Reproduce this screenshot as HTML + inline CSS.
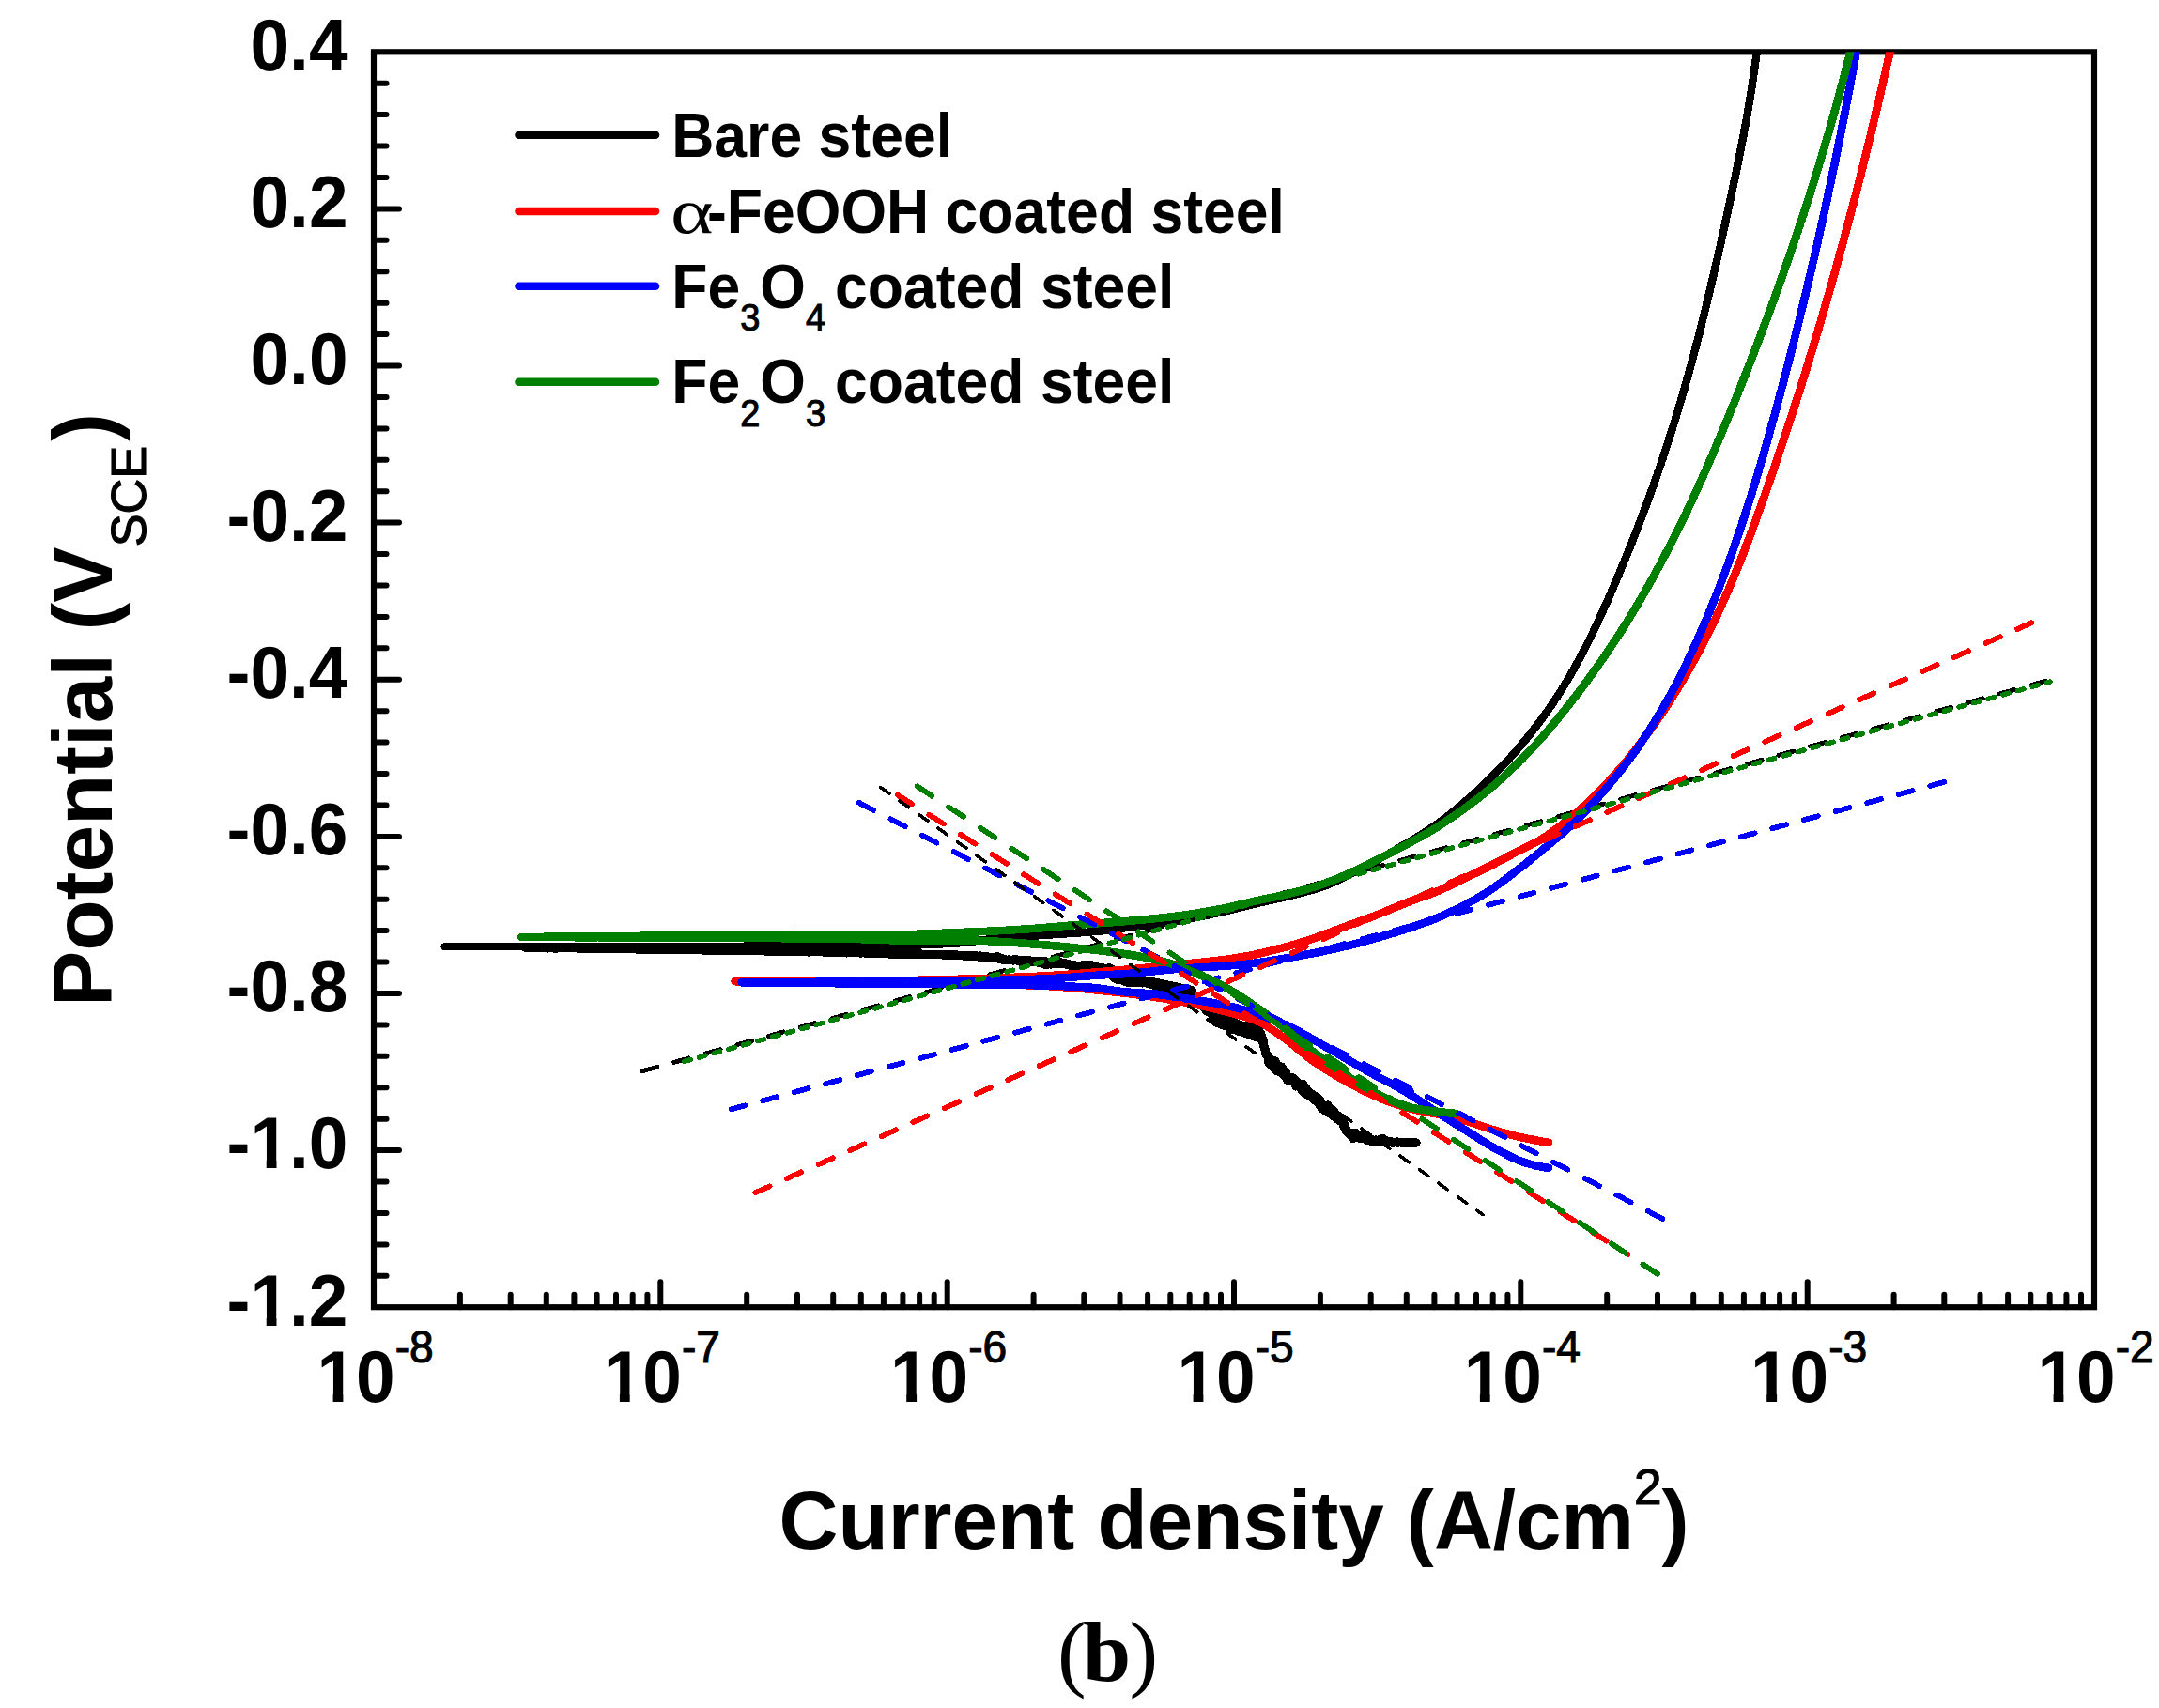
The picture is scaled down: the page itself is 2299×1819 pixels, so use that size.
<!DOCTYPE html>
<html lang="en"><head><meta charset="utf-8"><title>Polarization curves (b)</title>
<style>html,body{margin:0;padding:0;background:#fff}svg{display:block}text{font-family:'Liberation Sans', sans-serif;font-weight:bold;fill:#000}</style></head><body>
<svg width="2299" height="1819" viewBox="0 0 2299 1819" role="img" aria-label="Potentiodynamic polarization curves">
<rect width="2299" height="1819" fill="#fff"/>
<g stroke="#000" stroke-width="6.2" fill="none" stroke-linecap="butt">
<rect x="398.0" y="55.3" width="1832.0" height="1336.9"/>
</g>
<g stroke="#000" stroke-width="6" fill="none" stroke-linecap="round">
<line x1="398.0" y1="88.7" x2="411.5" y2="88.7"/>
<line x1="398.0" y1="122.1" x2="411.5" y2="122.1"/>
<line x1="398.0" y1="155.6" x2="411.5" y2="155.6"/>
<line x1="398.0" y1="189.0" x2="411.5" y2="189.0"/>
<line x1="398.0" y1="222.4" x2="425.0" y2="222.4"/>
<line x1="398.0" y1="255.8" x2="411.5" y2="255.8"/>
<line x1="398.0" y1="289.3" x2="411.5" y2="289.3"/>
<line x1="398.0" y1="322.7" x2="411.5" y2="322.7"/>
<line x1="398.0" y1="356.1" x2="411.5" y2="356.1"/>
<line x1="398.0" y1="389.5" x2="425.0" y2="389.5"/>
<line x1="398.0" y1="422.9" x2="411.5" y2="422.9"/>
<line x1="398.0" y1="456.4" x2="411.5" y2="456.4"/>
<line x1="398.0" y1="489.8" x2="411.5" y2="489.8"/>
<line x1="398.0" y1="523.2" x2="411.5" y2="523.2"/>
<line x1="398.0" y1="556.6" x2="425.0" y2="556.6"/>
<line x1="398.0" y1="590.1" x2="411.5" y2="590.1"/>
<line x1="398.0" y1="623.5" x2="411.5" y2="623.5"/>
<line x1="398.0" y1="656.9" x2="411.5" y2="656.9"/>
<line x1="398.0" y1="690.3" x2="411.5" y2="690.3"/>
<line x1="398.0" y1="723.8" x2="425.0" y2="723.8"/>
<line x1="398.0" y1="757.2" x2="411.5" y2="757.2"/>
<line x1="398.0" y1="790.6" x2="411.5" y2="790.6"/>
<line x1="398.0" y1="824.0" x2="411.5" y2="824.0"/>
<line x1="398.0" y1="857.4" x2="411.5" y2="857.4"/>
<line x1="398.0" y1="890.9" x2="425.0" y2="890.9"/>
<line x1="398.0" y1="924.3" x2="411.5" y2="924.3"/>
<line x1="398.0" y1="957.7" x2="411.5" y2="957.7"/>
<line x1="398.0" y1="991.1" x2="411.5" y2="991.1"/>
<line x1="398.0" y1="1024.6" x2="411.5" y2="1024.6"/>
<line x1="398.0" y1="1058.0" x2="425.0" y2="1058.0"/>
<line x1="398.0" y1="1091.4" x2="411.5" y2="1091.4"/>
<line x1="398.0" y1="1124.8" x2="411.5" y2="1124.8"/>
<line x1="398.0" y1="1158.2" x2="411.5" y2="1158.2"/>
<line x1="398.0" y1="1191.7" x2="411.5" y2="1191.7"/>
<line x1="398.0" y1="1225.1" x2="425.0" y2="1225.1"/>
<line x1="398.0" y1="1258.5" x2="411.5" y2="1258.5"/>
<line x1="398.0" y1="1291.9" x2="411.5" y2="1291.9"/>
<line x1="398.0" y1="1325.4" x2="411.5" y2="1325.4"/>
<line x1="398.0" y1="1358.8" x2="411.5" y2="1358.8"/>
<line x1="489.9" y1="1392.2" x2="489.9" y2="1378.7"/>
<line x1="543.7" y1="1392.2" x2="543.7" y2="1378.7"/>
<line x1="581.8" y1="1392.2" x2="581.8" y2="1378.7"/>
<line x1="611.4" y1="1392.2" x2="611.4" y2="1378.7"/>
<line x1="635.6" y1="1392.2" x2="635.6" y2="1378.7"/>
<line x1="656.0" y1="1392.2" x2="656.0" y2="1378.7"/>
<line x1="673.7" y1="1392.2" x2="673.7" y2="1378.7"/>
<line x1="689.4" y1="1392.2" x2="689.4" y2="1378.7"/>
<line x1="703.3" y1="1392.2" x2="703.3" y2="1365.2"/>
<line x1="795.2" y1="1392.2" x2="795.2" y2="1378.7"/>
<line x1="849.0" y1="1392.2" x2="849.0" y2="1378.7"/>
<line x1="887.2" y1="1392.2" x2="887.2" y2="1378.7"/>
<line x1="916.8" y1="1392.2" x2="916.8" y2="1378.7"/>
<line x1="940.9" y1="1392.2" x2="940.9" y2="1378.7"/>
<line x1="961.4" y1="1392.2" x2="961.4" y2="1378.7"/>
<line x1="979.1" y1="1392.2" x2="979.1" y2="1378.7"/>
<line x1="994.7" y1="1392.2" x2="994.7" y2="1378.7"/>
<line x1="1008.7" y1="1392.2" x2="1008.7" y2="1365.2"/>
<line x1="1100.6" y1="1392.2" x2="1100.6" y2="1378.7"/>
<line x1="1154.3" y1="1392.2" x2="1154.3" y2="1378.7"/>
<line x1="1192.5" y1="1392.2" x2="1192.5" y2="1378.7"/>
<line x1="1222.1" y1="1392.2" x2="1222.1" y2="1378.7"/>
<line x1="1246.3" y1="1392.2" x2="1246.3" y2="1378.7"/>
<line x1="1266.7" y1="1392.2" x2="1266.7" y2="1378.7"/>
<line x1="1284.4" y1="1392.2" x2="1284.4" y2="1378.7"/>
<line x1="1300.0" y1="1392.2" x2="1300.0" y2="1378.7"/>
<line x1="1314.0" y1="1392.2" x2="1314.0" y2="1365.2"/>
<line x1="1405.9" y1="1392.2" x2="1405.9" y2="1378.7"/>
<line x1="1459.7" y1="1392.2" x2="1459.7" y2="1378.7"/>
<line x1="1497.8" y1="1392.2" x2="1497.8" y2="1378.7"/>
<line x1="1527.4" y1="1392.2" x2="1527.4" y2="1378.7"/>
<line x1="1551.6" y1="1392.2" x2="1551.6" y2="1378.7"/>
<line x1="1572.0" y1="1392.2" x2="1572.0" y2="1378.7"/>
<line x1="1589.7" y1="1392.2" x2="1589.7" y2="1378.7"/>
<line x1="1605.4" y1="1392.2" x2="1605.4" y2="1378.7"/>
<line x1="1619.3" y1="1392.2" x2="1619.3" y2="1365.2"/>
<line x1="1711.2" y1="1392.2" x2="1711.2" y2="1378.7"/>
<line x1="1765.0" y1="1392.2" x2="1765.0" y2="1378.7"/>
<line x1="1803.2" y1="1392.2" x2="1803.2" y2="1378.7"/>
<line x1="1832.8" y1="1392.2" x2="1832.8" y2="1378.7"/>
<line x1="1856.9" y1="1392.2" x2="1856.9" y2="1378.7"/>
<line x1="1877.4" y1="1392.2" x2="1877.4" y2="1378.7"/>
<line x1="1895.1" y1="1392.2" x2="1895.1" y2="1378.7"/>
<line x1="1910.7" y1="1392.2" x2="1910.7" y2="1378.7"/>
<line x1="1924.7" y1="1392.2" x2="1924.7" y2="1365.2"/>
<line x1="2016.6" y1="1392.2" x2="2016.6" y2="1378.7"/>
<line x1="2070.3" y1="1392.2" x2="2070.3" y2="1378.7"/>
<line x1="2108.5" y1="1392.2" x2="2108.5" y2="1378.7"/>
<line x1="2138.1" y1="1392.2" x2="2138.1" y2="1378.7"/>
<line x1="2162.3" y1="1392.2" x2="2162.3" y2="1378.7"/>
<line x1="2182.7" y1="1392.2" x2="2182.7" y2="1378.7"/>
<line x1="2200.4" y1="1392.2" x2="2200.4" y2="1378.7"/>
<line x1="2216.0" y1="1392.2" x2="2216.0" y2="1378.7"/>
</g>
<clipPath id="pc"><rect x="398.0" y="55.3" width="1832.0" height="1336.9"/></clipPath>
<g clip-path="url(#pc)" shape-rendering="crispEdges">
<path d="M473.5,1008.2 L476.5,1008.2 L479.5,1008.2 L482.5,1008.2 L485.5,1008.2 L488.5,1008.2 L491.5,1008.2 L494.5,1008.2 L497.6,1008.2 L500.6,1008.2 L503.6,1008.2 L506.6,1008.2 L509.6,1008.1 L512.6,1008.1 L515.6,1008.1 L518.6,1008.1 L521.6,1008.1 L524.6,1008.1 L527.6,1008.1 L530.6,1008.1 L533.6,1008.1 L536.6,1008.1 L539.6,1008.1 L542.6,1008.1 L545.7,1008.1 L548.7,1008.1 L551.7,1008.1 L554.7,1008.1 L557.7,1008.1 L560.7,1008.1 L563.7,1008.1 L566.7,1008.1 L569.7,1008.1 L572.7,1008.0 L575.7,1008.0 L578.7,1008.0 L581.7,1008.0 L584.7,1008.0 L587.7,1008.0 L590.7,1008.0 L593.8,1008.0 L596.8,1008.0 L599.8,1008.0 L602.8,1008.0 L605.8,1008.0 L608.8,1008.0 L611.8,1008.0 L614.8,1008.0 L617.8,1008.0 L620.8,1008.0 L623.8,1008.0 L626.8,1008.0 L629.8,1007.9 L632.8,1007.9 L635.8,1007.9 L638.8,1007.9 L641.9,1007.9 L644.9,1007.9 L647.9,1007.9 L650.9,1007.9 L653.9,1007.9 L656.9,1007.9 L659.9,1007.9 L662.9,1007.9 L665.9,1007.9 L668.9,1007.9 L671.9,1007.9 L674.9,1007.9 L677.9,1007.9 L680.9,1007.9 L683.9,1007.9 L686.9,1007.9 L690.0,1007.9 L693.0,1007.8 L696.0,1007.8 L699.0,1007.8 L702.0,1007.8 L705.0,1007.8 L708.0,1007.8 L711.0,1007.8 L714.0,1007.8 L717.0,1007.8 L720.0,1007.8 L723.0,1007.8 L726.0,1007.8 L729.0,1007.8 L732.0,1007.8 L735.0,1007.8 L738.1,1007.8 L741.1,1007.8 L744.1,1007.8 L747.1,1007.7 L750.1,1007.7 L753.1,1007.7 L756.1,1007.7 L759.1,1007.7 L762.1,1007.7 L765.1,1007.7 L768.1,1007.7 L771.1,1007.7 L774.1,1007.7 L777.1,1007.7 L780.1,1007.7 L783.1,1007.7 L786.2,1007.7 L789.2,1007.7 L792.2,1007.7 L795.2,1007.6 L798.2,1007.6 L801.2,1007.6 L804.2,1007.6 L807.2,1007.6 L810.2,1007.6 L813.2,1007.6 L816.2,1007.6 L819.2,1007.6 L822.2,1007.6 L825.2,1007.6 L828.2,1007.6 L831.2,1007.6 L834.3,1007.5 L837.3,1007.5 L840.3,1007.5 L843.3,1007.5 L846.3,1007.5 L849.3,1007.5 L852.3,1007.5 L855.3,1007.5 L858.3,1007.5 L861.3,1007.5 L864.3,1007.5 L867.3,1007.4 L870.3,1007.4 L873.3,1007.4 L876.3,1007.4 L879.3,1007.4 L882.4,1007.4 L885.4,1007.4 L888.4,1007.4 L891.4,1007.4 L894.4,1007.4 L897.4,1007.3 L900.4,1007.3 L903.4,1007.3 L906.4,1007.3 L909.4,1007.3 L912.4,1007.3 L915.4,1007.3 L918.4,1007.2 L921.4,1007.2 L924.4,1007.2 L927.5,1007.2 L930.5,1007.2 L933.5,1007.1 L936.5,1007.1 L939.5,1007.1 L942.5,1007.1 L945.5,1007.0 L948.5,1007.0 L951.5,1007.0 L954.5,1006.9 L957.5,1006.9 L960.5,1006.9 L963.5,1006.8 L966.5,1006.7 L969.5,1006.6 L972.5,1006.6 L975.6,1006.5 L978.6,1006.4 L981.6,1006.3 L984.6,1006.2 L987.6,1006.0 L990.6,1005.9 L993.6,1005.8 L996.6,1005.7 L999.6,1005.5 L1002.6,1005.4 L1005.6,1005.2 L1008.6,1005.1 L1011.6,1004.9 L1014.6,1004.7 L1017.6,1004.6 L1020.6,1004.4 L1023.6,1004.1 L1026.6,1003.8 L1029.5,1003.5 L1032.5,1003.1 L1035.5,1002.7 L1038.5,1002.3 L1041.5,1001.9 L1044.5,1001.5 L1047.4,1001.1 L1050.4,1000.7 L1053.4,1000.3 L1056.4,1000.0 L1059.4,999.6 L1062.4,999.4 L1065.4,999.1 L1068.4,998.9 L1071.4,998.7 L1074.4,998.4 L1077.4,998.2 L1080.4,998.0 L1083.4,997.8 L1086.4,997.6 L1089.4,997.4 L1092.4,997.2 L1095.4,997.0 L1098.4,996.8 L1101.4,996.6 L1104.4,996.4 L1107.4,996.2 L1110.4,996.0 L1113.4,995.8 L1116.4,995.6 L1119.4,995.4 L1122.4,995.2 L1125.4,995.0 L1128.4,994.8 L1131.4,994.6 L1134.4,994.4 L1137.4,994.2 L1140.4,994.0 L1143.4,993.8 L1146.4,993.6 L1149.4,993.4 L1152.4,993.1 L1155.4,992.9 L1158.4,992.7 L1161.4,992.4 L1164.4,992.2 L1167.3,991.9 L1170.3,991.7 L1173.3,991.4 L1176.3,991.1 L1179.3,990.7 L1182.3,990.3 L1185.3,990.0 L1188.2,989.6 L1191.2,989.2 L1194.2,988.8 L1197.2,988.4 L1200.2,988.0 L1203.2,987.6 L1206.1,987.2 L1209.1,986.9 L1212.1,986.5 L1215.1,986.1 L1218.1,985.8 L1221.1,985.4 L1224.1,985.1 L1227.0,984.7 L1230.0,984.3 L1233.0,983.9 L1236.0,983.5 L1239.0,983.1 L1241.9,982.7 L1244.9,982.3 L1247.9,981.8 L1250.8,981.4 L1253.8,980.9 L1256.8,980.4 L1259.7,979.9 L1262.7,979.3 L1265.6,978.8 L1268.6,978.2 L1271.5,977.6 L1274.5,977.0 L1277.4,976.4 L1280.4,975.8 L1283.3,975.1 L1286.3,974.5 L1289.2,973.9 L1292.1,973.2 L1295.1,972.6 L1298.0,971.9 L1301.0,971.3 L1303.9,970.6 L1306.8,969.9 L1309.7,969.2 L1312.7,968.5 L1315.6,967.8 L1318.5,967.1 L1321.4,966.3 L1324.3,965.6 L1327.2,964.9 L1330.2,964.1 L1333.1,963.4 L1336.0,962.7 L1338.9,962.0 L1341.8,961.3 L1344.8,960.7 L1347.7,960.0 L1350.6,959.3 L1353.6,958.7 L1356.5,958.0 L1359.5,957.4 L1362.4,956.7 L1365.3,956.0 L1368.2,955.3 L1371.1,954.6 L1374.1,953.9 L1377.0,953.2 L1379.9,952.4 L1382.9,951.7 L1385.8,951.0 L1388.7,950.2 L1391.6,949.4 L1394.5,948.6 L1397.4,947.8 L1400.3,947.0 L1403.2,946.1 L1406.0,945.2 L1408.8,944.2 L1411.6,943.2 L1414.4,942.1 L1417.2,940.9 L1419.9,939.7 L1422.7,938.5 L1425.4,937.2 L1428.1,935.9 L1430.8,934.5 L1433.5,933.2 L1436.2,931.9 L1438.9,930.5 L1441.6,929.2 L1444.3,927.9 L1447.0,926.5 L1449.7,925.1 L1452.3,923.7 L1455.0,922.3 L1457.6,920.9 L1460.3,919.5 L1462.9,918.0 L1465.6,916.6 L1468.2,915.1 L1470.8,913.6 L1473.4,912.1 L1476.0,910.7 L1478.7,909.2 L1481.3,907.7 L1483.9,906.2 L1486.5,904.7 L1489.1,903.1 L1491.7,901.6 L1494.3,900.1 L1496.9,898.6 L1499.5,897.1 L1502.1,895.5 L1504.7,894.0 L1507.2,892.4 L1509.8,890.9 L1512.4,889.3 L1514.9,887.7 L1517.5,886.1 L1520.0,884.4 L1522.5,882.8 L1525.0,881.1 L1527.5,879.4 L1529.9,877.7 L1532.3,876.0 L1534.8,874.2 L1537.1,872.4 L1539.5,870.6 L1541.9,868.8 L1544.3,866.9 L1546.6,865.0 L1548.9,863.1 L1551.3,861.2 L1553.6,859.3 L1555.9,857.3 L1558.2,855.3 L1560.4,853.3 L1562.7,851.3 L1564.9,849.3 L1567.2,847.3 L1569.4,845.3 L1571.6,843.3 L1573.9,841.2 L1576.1,839.2 L1578.3,837.1 L1580.4,835.1 L1582.6,833.0 L1584.8,830.9 L1586.9,828.9 L1589.1,826.7 L1591.2,824.6 L1593.4,822.5 L1595.5,820.4 L1597.6,818.2 L1599.7,816.0 L1601.8,813.8 L1603.8,811.6 L1605.9,809.4 L1607.9,807.2 L1609.9,805.0 L1611.9,802.7 L1613.9,800.5 L1615.8,798.2 L1617.8,795.9 L1619.7,793.6 L1621.6,791.3 L1623.5,789.0 L1625.4,786.7 L1627.3,784.3 L1629.2,782.0 L1631.1,779.6 L1632.9,777.2 L1634.8,774.9 L1636.6,772.5 L1638.4,770.1 L1640.2,767.6 L1642.0,765.2 L1643.8,762.8 L1645.6,760.3 L1647.3,757.9 L1649.1,755.4 L1650.8,753.0 L1652.5,750.5 L1654.2,748.0 L1655.8,745.5 L1657.5,743.0 L1659.1,740.5 L1660.7,738.0 L1662.3,735.4 L1663.9,732.9 L1665.5,730.3 L1667.0,727.8 L1668.6,725.2 L1670.1,722.6 L1671.6,720.0 L1673.1,717.4 L1674.6,714.7 L1676.1,712.1 L1677.5,709.5 L1679.0,706.8 L1680.4,704.2 L1681.9,701.5 L1683.3,698.9 L1684.7,696.2 L1686.1,693.6 L1687.5,690.9 L1688.9,688.2 L1690.2,685.6 L1691.6,682.9 L1692.9,680.2 L1694.3,677.5 L1695.6,674.8 L1696.9,672.1 L1698.2,669.4 L1699.5,666.7 L1700.7,663.9 L1702.0,661.2 L1703.2,658.5 L1704.5,655.7 L1705.7,653.0 L1707.0,650.2 L1708.2,647.5 L1709.4,644.8 L1710.7,642.0 L1711.9,639.3 L1713.1,636.5 L1714.3,633.8 L1715.5,631.0 L1716.7,628.3 L1717.9,625.5 L1719.1,622.7 L1720.3,620.0 L1721.5,617.2 L1722.7,614.4 L1723.8,611.7 L1725.0,608.9 L1726.1,606.1 L1727.3,603.3 L1728.4,600.6 L1729.6,597.8 L1730.7,595.0 L1731.9,592.2 L1733.0,589.4 L1734.1,586.6 L1735.3,583.9 L1736.4,581.1 L1737.5,578.3 L1738.6,575.5 L1739.7,572.7 L1740.8,569.9 L1741.9,567.1 L1743.0,564.3 L1744.1,561.5 L1745.1,558.7 L1746.2,555.9 L1747.3,553.1 L1748.4,550.2 L1749.4,547.4 L1750.5,544.6 L1751.5,541.8 L1752.6,539.0 L1753.6,536.2 L1754.7,533.3 L1755.7,530.5 L1756.7,527.7 L1757.7,524.9 L1758.8,522.0 L1759.8,519.2 L1760.8,516.4 L1761.8,513.5 L1762.8,510.7 L1763.8,507.9 L1764.8,505.0 L1765.7,502.2 L1766.7,499.3 L1767.7,496.5 L1768.7,493.7 L1769.6,490.8 L1770.6,488.0 L1771.5,485.1 L1772.5,482.3 L1773.4,479.4 L1774.4,476.5 L1775.3,473.7 L1776.2,470.8 L1777.1,468.0 L1778.1,465.1 L1779.0,462.2 L1779.9,459.4 L1780.8,456.5 L1781.7,453.6 L1782.6,450.8 L1783.5,447.9 L1784.4,445.0 L1785.2,442.1 L1786.1,439.3 L1787.0,436.4 L1787.8,433.5 L1788.7,430.6 L1789.6,427.8 L1790.4,424.9 L1791.3,422.0 L1792.1,419.1 L1792.9,416.2 L1793.8,413.3 L1794.6,410.4 L1795.4,407.5 L1796.2,404.6 L1797.0,401.7 L1797.8,398.9 L1798.6,396.0 L1799.4,393.1 L1800.2,390.2 L1801.0,387.3 L1801.8,384.4 L1802.6,381.5 L1803.4,378.5 L1804.1,375.6 L1804.9,372.7 L1805.7,369.8 L1806.4,366.9 L1807.2,364.0 L1808.0,361.1 L1808.7,358.2 L1809.5,355.3 L1810.2,352.4 L1810.9,349.5 L1811.7,346.5 L1812.4,343.6 L1813.1,340.7 L1813.9,337.8 L1814.6,334.9 L1815.3,332.0 L1816.0,329.0 L1816.7,326.1 L1817.4,323.2 L1818.2,320.3 L1818.9,317.3 L1819.6,314.4 L1820.3,311.5 L1820.9,308.6 L1821.6,305.6 L1822.3,302.7 L1823.0,299.8 L1823.7,296.9 L1824.4,293.9 L1825.1,291.0 L1825.7,288.1 L1826.4,285.1 L1827.1,282.2 L1827.8,279.3 L1828.4,276.4 L1829.1,273.4 L1829.8,270.5 L1830.4,267.6 L1831.1,264.6 L1831.8,261.7 L1832.4,258.8 L1833.1,255.8 L1833.7,252.9 L1834.4,250.0 L1835.0,247.0 L1835.7,244.1 L1836.3,241.2 L1836.9,238.2 L1837.6,235.3 L1838.2,232.3 L1838.9,229.4 L1839.5,226.5 L1840.1,223.5 L1840.8,220.6 L1841.4,217.7 L1842.1,214.7 L1842.7,211.8 L1843.3,208.8 L1844.0,205.9 L1844.6,203.0 L1845.2,200.0 L1845.8,197.1 L1846.4,194.1 L1847.1,191.2 L1847.7,188.2 L1848.3,185.3 L1848.9,182.4 L1849.5,179.4 L1850.1,176.5 L1850.7,173.5 L1851.3,170.6 L1851.9,167.6 L1852.5,164.7 L1853.1,161.7 L1853.7,158.8 L1854.2,155.8 L1854.8,152.9 L1855.4,149.9 L1856.0,147.0 L1856.5,144.0 L1857.1,141.1 L1857.6,138.1 L1858.2,135.2 L1858.7,132.2 L1859.3,129.3 L1859.8,126.3 L1860.3,123.3 L1860.9,120.4 L1861.4,117.4 L1861.9,114.4 L1862.4,111.5 L1862.9,108.5 L1863.4,105.6 L1863.9,102.6 L1864.4,99.6 L1864.8,96.7 L1865.3,93.7 L1865.8,90.7 L1866.2,87.7 L1866.7,84.8 L1867.1,81.8 L1867.5,78.8 L1868.0,75.8 L1868.4,72.9 L1868.8,69.9 L1869.2,66.9 L1869.6,63.9 L1870.0,60.9 L1870.4,58.0 L1870.7,55.0 L1871.1,52.0" fill="none" stroke="#000000" stroke-width="8.4" stroke-linecap="round" stroke-linejoin="round"/>
<path d="M560.0,1009.5 L562.5,1009.5 L565.0,1009.5 L567.5,1009.4 L570.0,1009.4 L572.6,1009.6 L575.1,1009.6 L577.6,1009.6 L580.1,1009.7 L582.6,1009.8 L585.1,1009.7 L587.6,1009.7 L590.1,1009.8 L592.6,1009.8 L595.1,1009.7 L597.7,1009.7 L600.2,1009.7 L602.7,1009.6 L605.2,1009.5 L607.7,1009.6 L610.2,1009.6 L612.7,1009.7 L615.2,1009.8 L617.7,1010.0 L620.3,1009.8 L622.8,1009.9 L625.3,1009.9 L627.8,1009.9 L630.3,1009.9 L632.8,1010.0 L635.3,1010.0 L637.8,1010.0 L640.3,1010.1 L642.8,1010.2 L645.4,1010.2 L647.9,1010.4 L650.4,1010.4 L652.9,1010.4 L655.4,1010.5 L657.9,1010.5 L660.4,1010.4 L662.9,1010.5 L665.4,1010.6 L668.0,1010.5 L670.5,1010.6 L673.0,1010.7 L675.5,1010.7 L678.0,1010.8 L680.5,1011.0 L683.0,1010.9 L685.5,1010.9 L688.0,1011.0 L690.5,1010.9 L693.1,1010.9 L695.6,1011.0 L698.1,1011.1 L700.6,1011.2 L703.1,1011.2 L705.6,1011.2 L708.1,1011.2 L710.6,1011.2 L713.1,1011.0 L715.7,1011.1 L718.2,1011.1 L720.7,1011.2 L723.2,1011.3 L725.7,1011.4 L728.2,1011.4 L730.7,1011.5 L733.2,1011.3 L735.7,1011.2 L738.2,1011.3 L740.8,1011.5 L743.3,1011.6 L745.8,1011.7 L748.3,1011.8 L750.8,1011.8 L753.3,1011.9 L755.8,1011.8 L758.3,1011.9 L760.8,1012.0 L763.3,1012.0 L765.9,1011.9 L768.4,1011.9 L770.9,1012.0 L773.4,1012.0 L775.9,1012.1 L778.4,1012.2 L780.9,1012.3 L783.4,1012.4 L785.9,1012.5 L788.5,1012.5 L791.0,1012.5 L793.5,1012.6 L796.0,1012.5 L798.5,1012.6 L801.0,1012.4 L803.5,1012.3 L806.0,1012.3 L808.5,1012.3 L811.0,1012.4 L813.6,1012.7 L816.1,1012.9 L818.6,1012.9 L821.1,1013.1 L823.6,1013.1 L826.1,1013.0 L828.6,1013.1 L831.1,1013.2 L833.6,1013.3 L836.1,1013.2 L838.7,1013.3 L841.2,1013.3 L843.7,1013.2 L846.2,1013.3 L848.7,1013.3 L851.2,1013.5 L853.7,1013.5 L856.2,1013.7 L858.7,1013.7 L861.2,1013.8 L863.8,1013.6 L866.3,1013.5 L868.8,1013.6 L871.3,1013.5 L873.8,1013.6 L876.3,1013.7 L878.8,1013.9 L881.3,1013.8 L883.8,1014.2 L886.3,1014.2 L888.9,1014.2 L891.4,1014.3 L893.9,1014.6 L896.4,1014.6 L898.9,1014.6 L901.4,1014.8 L903.9,1014.6 L906.4,1014.7 L908.9,1014.7 L911.4,1014.7 L914.0,1014.7 L916.5,1014.8 L919.0,1014.7 L921.5,1014.9 L924.0,1014.9 L926.5,1015.2 L929.0,1015.3 L931.5,1015.4 L934.0,1015.3 L936.5,1015.3 L939.1,1015.3 L941.6,1015.3 L944.1,1015.4 L946.6,1015.4 L949.1,1015.4 L951.6,1015.6 L954.1,1015.6 L956.6,1015.6 L959.1,1015.8 L961.7,1016.1 L964.2,1015.9 L966.7,1016.0 L969.2,1016.1 L971.7,1015.9 L974.2,1015.9 L976.7,1016.1 L979.2,1016.1 L981.7,1016.2 L984.3,1016.5 L986.8,1016.4 L989.3,1016.4 L991.8,1016.3 L994.3,1016.3 L996.8,1016.5 L999.3,1016.6 L1001.8,1016.7 L1004.3,1016.8 L1006.9,1017.0 L1009.4,1016.8 L1011.9,1017.1 L1014.4,1017.0 L1016.9,1017.1 L1019.4,1017.2 L1021.9,1017.6 L1024.4,1017.7 L1026.9,1017.9 L1029.4,1017.9 L1031.9,1017.8 L1034.4,1017.9 L1036.9,1018.1 L1039.4,1018.1 L1041.9,1018.5 L1044.4,1019.1 L1046.9,1019.3 L1049.4,1019.6 L1051.9,1019.8 L1054.4,1020.3 L1056.9,1020.1 L1059.4,1020.4 L1061.9,1020.6 L1064.4,1021.2 L1066.9,1021.6 L1069.4,1022.6 L1071.9,1022.4 L1074.4,1022.2 L1076.9,1022.5 L1079.4,1022.0 L1081.9,1021.9 L1084.4,1022.7 L1086.9,1022.9 L1089.4,1022.4 L1091.9,1022.9 L1094.4,1023.1 L1096.9,1023.0 L1099.4,1023.7 L1101.9,1024.3 L1104.4,1023.9 L1106.9,1024.0 L1109.4,1024.0 L1111.9,1023.7 L1114.4,1024.3 L1116.9,1024.9 L1119.4,1025.3 L1121.9,1025.5 L1124.4,1026.0 L1126.9,1025.7 L1129.4,1025.6 L1131.9,1025.8 L1134.4,1026.0 L1137.0,1026.6 L1139.5,1027.3 L1142.0,1028.5 L1144.6,1028.1 L1147.1,1029.0 L1149.6,1029.0 L1152.1,1029.1 L1154.7,1028.0 L1157.2,1028.6 L1159.7,1028.8 L1162.2,1029.1 L1164.6,1029.4 L1167.1,1030.2 L1169.5,1031.2 L1171.9,1031.3 L1174.3,1031.0 L1176.6,1031.4 L1178.9,1031.7 L1181.2,1030.8 L1183.4,1031.8 L1185.7,1034.6 L1187.9,1036.2 L1190.2,1037.8 L1192.4,1040.0 L1194.7,1041.8 L1197.0,1042.3 L1199.4,1043.0 L1201.8,1044.1 L1204.2,1045.0 L1206.6,1045.3 L1209.1,1045.9 L1211.6,1046.3 L1214.1,1046.2 L1216.6,1046.8 L1219.1,1046.4 L1221.6,1047.0 L1224.1,1046.6 L1226.6,1047.4 L1229.1,1047.5 L1231.6,1047.6 L1234.1,1048.3 L1236.6,1050.1 L1239.0,1050.5 L1241.5,1051.4 L1244.1,1052.7 L1246.6,1051.2 L1249.1,1051.2 L1251.5,1052.0 L1254.0,1052.3 L1256.3,1052.3 L1258.7,1054.2 L1260.9,1054.8 L1263.1,1056.4 L1265.3,1057.6 L1267.4,1059.5 L1269.4,1061.9 L1271.4,1063.3 L1273.4,1064.0 L1275.3,1064.4 L1277.3,1067.1 L1279.2,1068.5 L1281.1,1071.2 L1283.0,1073.5 L1284.9,1076.6 L1286.7,1077.5 L1288.5,1078.5 L1290.3,1079.5 L1292.1,1080.8 L1294.0,1083.3 L1296.1,1084.9 L1298.2,1086.3 L1300.4,1087.1 L1302.7,1087.6 L1305.0,1088.6 L1307.3,1089.5 L1309.7,1090.5 L1312.1,1091.6 L1314.5,1092.1 L1316.9,1091.7 L1319.3,1092.9 L1321.7,1093.4 L1324.2,1094.4 L1326.9,1095.9 L1329.7,1096.8 L1332.5,1095.6 L1335.1,1096.5 L1337.6,1096.8 L1339.8,1098.7 L1341.6,1099.0 L1342.9,1102.0 L1343.8,1105.0 L1344.4,1107.6 L1345.0,1108.9 L1345.4,1112.4 L1345.9,1114.7 L1346.5,1115.4 L1347.2,1118.5 L1348.2,1122.8 L1349.5,1124.5 L1351.1,1126.4 L1352.8,1128.3 L1354.6,1130.1 L1356.2,1129.3 L1357.9,1130.4 L1359.7,1133.5 L1361.5,1135.3 L1363.3,1137.7 L1365.1,1141.7 L1366.9,1144.6 L1368.7,1145.8 L1370.5,1149.9 L1372.3,1150.6 L1374.1,1150.6 L1375.9,1151.0 L1377.7,1152.3 L1379.6,1153.5 L1381.6,1156.0 L1383.6,1157.2 L1385.7,1159.1 L1387.8,1160.0 L1389.9,1160.5 L1391.9,1160.9 L1394.0,1163.4 L1396.0,1165.8 L1397.9,1167.6 L1399.8,1169.0 L1401.6,1171.1 L1403.3,1172.6 L1405.0,1174.7 L1406.8,1178.3 L1408.5,1180.7 L1410.3,1182.3 L1412.2,1182.6 L1414.2,1184.0 L1416.3,1182.2 L1418.5,1181.9 L1420.7,1183.9 L1422.9,1187.3 L1424.9,1188.3 L1426.8,1190.1 L1428.4,1192.7 L1429.7,1193.5 L1430.9,1195.8 L1432.1,1200.3 L1433.3,1204.2 L1434.8,1205.6 L1436.5,1206.6 L1438.5,1207.2 L1440.7,1206.3 L1443.1,1206.4 L1445.6,1208.2 L1448.1,1209.2 L1450.6,1210.8 L1453.1,1212.3 L1455.5,1214.2 L1457.9,1214.3 L1460.4,1215.6 L1462.8,1215.3 L1465.3,1215.0 L1467.8,1214.8 L1470.4,1214.8 L1472.9,1214.5 L1475.4,1215.0 L1477.9,1215.3 L1480.4,1215.6 L1482.9,1216.4 L1485.4,1216.4 L1487.9,1216.2 L1490.4,1216.4 L1492.9,1216.5 L1495.4,1216.4 L1497.9,1216.9 L1500.4,1217.1 L1503.0,1217.0 L1505.5,1217.0 L1508.0,1217.0" fill="none" stroke="#000000" stroke-width="9.5" stroke-linecap="round" stroke-linejoin="round"/>
<path d="M560.0,1009.7 L562.5,1009.7 L565.0,1009.6 L567.5,1009.7 L570.0,1009.7 L572.6,1009.7 L575.1,1009.5 L577.6,1009.7 L580.1,1009.7 L582.6,1009.8 L585.1,1009.8 L587.6,1009.8 L590.1,1009.8 L592.6,1010.0 L595.1,1009.9 L597.7,1009.9 L600.2,1009.9 L602.7,1009.9 L605.2,1009.8 L607.7,1009.9 L610.2,1009.8 L612.7,1009.6 L615.2,1009.6 L617.7,1009.5 L620.3,1009.5 L622.8,1009.6 L625.3,1009.6 L627.8,1009.7 L630.3,1009.9 L632.8,1009.9 L635.3,1010.0 L637.8,1010.2 L640.3,1010.3 L642.8,1010.4 L645.4,1010.5 L647.9,1010.5 L650.4,1010.5 L652.9,1010.5 L655.4,1010.5 L657.9,1010.7 L660.4,1010.5 L662.9,1010.4 L665.4,1010.4 L668.0,1010.3 L670.5,1010.3 L673.0,1010.4 L675.5,1010.3 L678.0,1010.5 L680.5,1010.7 L683.0,1010.9 L685.5,1011.1 L688.0,1011.2 L690.5,1011.1 L693.1,1011.2 L695.6,1011.2 L698.1,1011.0 L700.6,1011.0 L703.1,1011.0 L705.6,1011.0 L708.1,1011.1 L710.6,1011.1 L713.1,1011.1 L715.7,1011.2 L718.2,1011.3 L720.7,1011.3 L723.2,1011.3 L725.7,1011.3 L728.2,1011.5 L730.7,1011.6 L733.2,1011.7 L735.7,1011.7 L738.2,1011.9 L740.8,1012.1 L743.3,1012.0 L745.8,1012.0 L748.3,1012.0 L750.8,1012.1 L753.3,1012.0 L755.8,1012.0 L758.3,1011.7 L760.8,1012.0 L763.3,1012.1 L765.9,1011.9 L768.4,1011.9 L770.9,1011.9 L773.4,1011.8 L775.9,1012.2 L778.4,1012.4 L780.9,1012.1 L783.4,1012.3 L785.9,1012.4 L788.5,1012.8 L791.0,1012.8 L793.5,1012.6 L796.0,1012.5 L798.5,1012.7 L801.0,1012.8 L803.5,1012.7 L806.0,1012.6 L808.5,1012.6 L811.0,1012.8 L813.6,1012.7 L816.1,1012.6 L818.6,1012.7 L821.1,1012.9 L823.6,1012.9 L826.1,1012.8 L828.6,1013.0 L831.1,1013.1 L833.6,1013.6 L836.1,1013.7 L838.7,1013.5 L841.2,1013.4 L843.7,1013.8 L846.2,1014.0 L848.7,1013.9 L851.2,1013.6 L853.7,1013.7 L856.2,1013.7 L858.7,1013.9 L861.2,1013.8 L863.8,1013.5 L866.3,1013.8 L868.8,1013.9 L871.3,1014.0 L873.8,1014.1 L876.3,1014.3 L878.8,1014.1 L881.3,1013.9 L883.8,1013.9 L886.3,1013.9 L888.9,1013.9 L891.4,1014.1 L893.9,1014.3 L896.4,1014.7 L898.9,1015.1 L901.4,1015.0 L903.9,1015.1 L906.4,1015.0 L908.9,1014.9 L911.4,1014.6 L914.0,1014.5 L916.5,1014.4 L919.0,1014.5 L921.5,1014.6 L924.0,1014.5 L926.5,1014.6 L929.0,1014.9 L931.5,1015.1 L934.0,1015.3 L936.5,1015.2 L939.1,1015.2 L941.6,1015.8 L944.1,1016.0 L946.6,1016.3 L949.1,1016.5 L951.6,1016.4 L954.1,1016.6 L956.6,1016.8 L959.1,1016.6 L961.7,1016.7 L964.2,1016.5 L966.7,1016.3 L969.2,1016.2 L971.7,1016.2 L974.2,1016.1 L976.7,1016.1 L979.2,1016.0 L981.7,1016.1 L984.3,1016.2 L986.8,1016.5 L989.3,1016.7 L991.8,1016.8 L994.3,1016.8 L996.8,1016.9 L999.3,1016.8 L1001.8,1016.8 L1004.3,1016.8 L1006.9,1016.9 L1009.4,1016.7 L1011.9,1017.0 L1014.4,1017.0 L1016.9,1017.0 L1019.4,1017.0 L1021.9,1017.0 L1024.4,1017.0 L1026.9,1017.2 L1029.4,1016.9 L1031.9,1016.9 L1034.4,1017.5 L1036.9,1017.7 L1039.4,1017.7 L1041.9,1017.8 L1044.4,1017.7 L1046.9,1018.7 L1049.4,1018.7 L1051.9,1018.7 L1054.4,1019.1 L1056.9,1019.3 L1059.4,1019.7 L1061.9,1020.7 L1064.4,1020.6 L1066.9,1021.5 L1069.4,1021.9 L1071.9,1022.1 L1074.4,1023.0 L1076.9,1023.2 L1079.4,1023.3 L1081.9,1023.1 L1084.4,1023.6 L1086.9,1023.3 L1089.4,1023.1 L1091.9,1023.3 L1094.4,1024.2 L1096.9,1024.6 L1099.4,1024.9 L1101.9,1025.1 L1104.4,1025.3 L1106.9,1025.9 L1109.4,1026.0 L1111.9,1024.6 L1114.4,1024.4 L1116.9,1024.4 L1119.4,1023.9 L1121.9,1023.7 L1124.4,1023.2 L1126.9,1022.9 L1129.4,1024.5 L1131.9,1025.4 L1134.4,1026.1 L1137.0,1027.2 L1139.5,1027.9 L1142.0,1028.0 L1144.6,1028.7 L1147.1,1028.7 L1149.6,1027.9 L1152.1,1028.2 L1154.7,1028.2 L1157.2,1028.1 L1159.7,1028.6 L1162.2,1028.7 L1164.6,1028.6 L1167.1,1029.0 L1169.5,1029.7 L1171.9,1030.7 L1174.3,1031.5 L1176.6,1033.6 L1178.9,1035.2 L1181.2,1036.9 L1183.4,1038.9 L1185.7,1039.4 L1187.9,1040.1 L1190.2,1042.9 L1192.4,1044.1 L1194.7,1044.3 L1197.0,1045.2 L1199.4,1046.1 L1201.8,1047.1 L1204.2,1046.8 L1206.6,1047.0 L1209.1,1046.1 L1211.6,1047.2 L1214.1,1047.1 L1216.6,1045.9 L1219.1,1046.8 L1221.6,1047.7 L1224.1,1046.3 L1226.6,1047.8 L1229.1,1047.6 L1231.6,1046.7 L1234.1,1047.5 L1236.6,1047.3 L1239.0,1048.0 L1241.5,1049.4 L1244.1,1049.6 L1246.6,1050.7 L1249.1,1052.4 L1251.5,1054.3 L1254.0,1054.9 L1256.3,1055.4 L1258.7,1056.4 L1260.9,1056.5 L1263.1,1056.6 L1265.3,1059.0 L1267.4,1059.7 L1269.4,1060.8 L1271.4,1062.4 L1273.4,1063.2 L1275.3,1066.0 L1277.3,1067.8 L1279.2,1068.5 L1281.1,1068.5 L1283.0,1071.6 L1284.9,1072.4 L1286.7,1073.2 L1288.5,1074.5 L1290.3,1076.5 L1292.1,1078.0 L1294.0,1080.0 L1296.1,1080.2 L1298.2,1085.7 L1300.4,1087.2 L1302.7,1088.8 L1305.0,1089.9 L1307.3,1090.8 L1309.7,1091.0 L1312.1,1090.2 L1314.5,1087.7 L1316.9,1089.9 L1319.3,1092.2 L1321.7,1092.7 L1324.2,1093.5 L1326.9,1099.5 L1329.7,1100.7 L1332.5,1100.0 L1335.1,1100.8 L1337.6,1099.8 L1339.8,1102.5 L1341.6,1103.5 L1342.9,1100.6 L1343.8,1103.3 L1344.4,1109.4 L1345.0,1113.3 L1345.4,1113.0 L1345.9,1114.7 L1346.5,1116.3 L1347.2,1120.3 L1348.2,1122.1 L1349.5,1123.4 L1351.1,1125.0 L1352.8,1131.1 L1354.6,1133.3 L1356.2,1136.2 L1357.9,1137.7 L1359.7,1141.1 L1361.5,1141.4 L1363.3,1141.7 L1365.1,1143.8 L1366.9,1145.6 L1368.7,1147.3 L1370.5,1147.8 L1372.3,1147.5 L1374.1,1147.9 L1375.9,1146.9 L1377.7,1148.3 L1379.6,1150.3 L1381.6,1151.7 L1383.6,1155.3 L1385.7,1157.9 L1387.8,1160.4 L1389.9,1162.2 L1391.9,1162.2 L1394.0,1163.6 L1396.0,1167.2 L1397.9,1169.7 L1399.8,1172.5 L1401.6,1172.5 L1403.3,1174.7 L1405.0,1177.4 L1406.8,1178.7 L1408.5,1179.8 L1410.3,1179.2 L1412.2,1179.5 L1414.2,1180.6 L1416.3,1185.1 L1418.5,1185.3 L1420.7,1187.0 L1422.9,1187.8 L1424.9,1189.3 L1426.8,1191.0 L1428.4,1194.4 L1429.7,1196.9 L1430.9,1200.4 L1432.1,1201.8 L1433.3,1202.8 L1434.8,1206.7 L1436.5,1207.6 L1438.5,1210.1 L1440.7,1210.8 L1443.1,1210.6 L1445.6,1211.2 L1448.1,1212.8 L1450.6,1212.0 L1453.1,1213.3 L1455.5,1211.9 L1457.9,1211.7 L1460.4,1212.7 L1462.8,1214.7 L1465.3,1213.6 L1467.8,1214.2 L1470.4,1214.1 L1472.9,1215.2 L1475.4,1215.5 L1477.9,1215.8 L1480.4,1215.9 L1482.9,1217.1 L1485.4,1217.1 L1487.9,1217.5 L1490.4,1217.2 L1492.9,1217.5 L1495.4,1217.4 L1497.9,1216.9 L1500.4,1216.8 L1503.0,1216.8 L1505.5,1216.8 L1508.0,1216.9" fill="none" stroke="#000000" stroke-width="8.5" stroke-linecap="round" stroke-linejoin="round"/>
<path d="M560.0,1009.6 L562.5,1009.6 L565.0,1009.3 L567.5,1009.3 L570.0,1009.1 L572.6,1009.2 L575.1,1009.6 L577.6,1009.7 L580.1,1010.1 L582.6,1010.0 L585.1,1009.9 L587.6,1009.8 L590.1,1009.9 L592.6,1009.8 L595.1,1009.9 L597.7,1009.8 L600.2,1009.6 L602.7,1009.6 L605.2,1009.7 L607.7,1009.8 L610.2,1009.9 L612.7,1009.8 L615.2,1009.8 L617.7,1009.7 L620.3,1009.8 L622.8,1010.1 L625.3,1010.0 L627.8,1010.2 L630.3,1010.6 L632.8,1010.3 L635.3,1010.2 L637.8,1010.2 L640.3,1010.1 L642.8,1010.6 L645.4,1010.6 L647.9,1010.8 L650.4,1010.6 L652.9,1010.2 L655.4,1010.2 L657.9,1010.3 L660.4,1010.2 L662.9,1010.3 L665.4,1010.6 L668.0,1010.8 L670.5,1011.1 L673.0,1011.0 L675.5,1010.9 L678.0,1010.8 L680.5,1010.5 L683.0,1010.6 L685.5,1010.7 L688.0,1010.4 L690.5,1010.4 L693.1,1010.2 L695.6,1010.3 L698.1,1010.5 L700.6,1010.8 L703.1,1011.2 L705.6,1011.2 L708.1,1011.4 L710.6,1011.4 L713.1,1011.4 L715.7,1011.1 L718.2,1011.4 L720.7,1011.5 L723.2,1011.9 L725.7,1012.1 L728.2,1011.8 L730.7,1011.4 L733.2,1010.5 L735.7,1010.3 L738.2,1010.5 L740.8,1010.6 L743.3,1010.9 L745.8,1011.3 L748.3,1011.1 L750.8,1011.2 L753.3,1011.6 L755.8,1011.6 L758.3,1011.8 L760.8,1011.6 L763.3,1011.7 L765.9,1011.6 L768.4,1011.8 L770.9,1012.0 L773.4,1012.3 L775.9,1012.6 L778.4,1012.7 L780.9,1012.8 L783.4,1012.7 L785.9,1012.7 L788.5,1012.2 L791.0,1012.3 L793.5,1012.1 L796.0,1011.9 L798.5,1012.1 L801.0,1011.9 L803.5,1012.0 L806.0,1012.2 L808.5,1012.3 L811.0,1012.3 L813.6,1012.6 L816.1,1012.5 L818.6,1012.7 L821.1,1013.0 L823.6,1012.8 L826.1,1013.0 L828.6,1013.0 L831.1,1013.1 L833.6,1012.9 L836.1,1012.5 L838.7,1012.6 L841.2,1013.0 L843.7,1013.4 L846.2,1014.1 L848.7,1014.4 L851.2,1014.1 L853.7,1014.0 L856.2,1013.7 L858.7,1014.0 L861.2,1014.2 L863.8,1014.2 L866.3,1014.2 L868.8,1014.2 L871.3,1013.9 L873.8,1014.2 L876.3,1014.2 L878.8,1014.1 L881.3,1014.6 L883.8,1014.6 L886.3,1014.9 L888.9,1014.9 L891.4,1014.6 L893.9,1014.5 L896.4,1014.7 L898.9,1015.0 L901.4,1015.2 L903.9,1014.9 L906.4,1014.6 L908.9,1014.5 L911.4,1014.5 L914.0,1014.5 L916.5,1014.8 L919.0,1015.4 L921.5,1015.2 L924.0,1015.6 L926.5,1015.8 L929.0,1015.2 L931.5,1015.5 L934.0,1015.5 L936.5,1015.4 L939.1,1015.4 L941.6,1015.8 L944.1,1015.4 L946.6,1015.5 L949.1,1015.7 L951.6,1015.5 L954.1,1016.1 L956.6,1016.0 L959.1,1016.3 L961.7,1016.3 L964.2,1016.2 L966.7,1015.9 L969.2,1015.4 L971.7,1015.5 L974.2,1015.2 L976.7,1015.4 L979.2,1015.4 L981.7,1015.4 L984.3,1015.8 L986.8,1016.3 L989.3,1016.2 L991.8,1016.3 L994.3,1016.5 L996.8,1016.7 L999.3,1017.6 L1001.8,1017.3 L1004.3,1017.1 L1006.9,1016.9 L1009.4,1016.9 L1011.9,1017.4 L1014.4,1017.7 L1016.9,1017.7 L1019.4,1017.3 L1021.9,1017.3 L1024.4,1017.6 L1026.9,1017.5 L1029.4,1018.3 L1031.9,1017.3 L1034.4,1017.0 L1036.9,1017.9 L1039.4,1017.9 L1041.9,1019.8 L1044.4,1020.3 L1046.9,1019.3 L1049.4,1019.0 L1051.9,1019.2 L1054.4,1018.6 L1056.9,1019.0 L1059.4,1018.7 L1061.9,1017.9 L1064.4,1018.9 L1066.9,1019.9 L1069.4,1020.6 L1071.9,1022.1 L1074.4,1023.0 L1076.9,1022.7 L1079.4,1022.9 L1081.9,1021.4 L1084.4,1021.3 L1086.9,1023.0 L1089.4,1023.7 L1091.9,1024.2 L1094.4,1024.3 L1096.9,1023.0 L1099.4,1022.7 L1101.9,1022.3 L1104.4,1022.5 L1106.9,1024.0 L1109.4,1025.6 L1111.9,1027.8 L1114.4,1028.2 L1116.9,1027.7 L1119.4,1027.8 L1121.9,1027.3 L1124.4,1027.5 L1126.9,1027.1 L1129.4,1027.4 L1131.9,1027.0 L1134.4,1027.5 L1137.0,1028.7 L1139.5,1028.7 L1142.0,1030.3 L1144.6,1029.5 L1147.1,1028.6 L1149.6,1027.8 L1152.1,1027.0 L1154.7,1026.7 L1157.2,1027.0 L1159.7,1027.1 L1162.2,1026.8 L1164.6,1028.4 L1167.1,1028.5 L1169.5,1029.6 L1171.9,1032.3 L1174.3,1034.1 L1176.6,1035.6 L1178.9,1037.3 L1181.2,1037.3 L1183.4,1039.2 L1185.7,1042.1 L1187.9,1043.5 L1190.2,1044.4 L1192.4,1043.0 L1194.7,1043.0 L1197.0,1042.8 L1199.4,1043.4 L1201.8,1044.9 L1204.2,1043.6 L1206.6,1042.1 L1209.1,1041.7 L1211.6,1040.1 L1214.1,1041.6 L1216.6,1043.1 L1219.1,1044.3 L1221.6,1043.7 L1224.1,1045.6 L1226.6,1047.3 L1229.1,1046.9 L1231.6,1049.8 L1234.1,1050.0 L1236.6,1051.0 L1239.0,1052.3 L1241.5,1053.2 L1244.1,1053.4 L1246.6,1051.7 L1249.1,1050.8 L1251.5,1050.0 L1254.0,1050.8 L1256.3,1054.5 L1258.7,1057.0 L1260.9,1060.3 L1263.1,1061.4 L1265.3,1060.8 L1267.4,1061.0 L1269.4,1059.8 L1271.4,1060.1 L1273.4,1063.7 L1275.3,1067.6 L1277.3,1068.4 L1279.2,1068.3 L1281.1,1069.1 L1283.0,1069.8 L1284.9,1072.0 L1286.7,1076.7 L1288.5,1079.5 L1290.3,1082.3 L1292.1,1085.8 L1294.0,1088.5 L1296.1,1086.9 L1298.2,1085.7 L1300.4,1085.0 L1302.7,1087.1 L1305.0,1092.5 L1307.3,1094.4 L1309.7,1098.0 L1312.1,1096.4 L1314.5,1095.1 L1316.9,1098.2 L1319.3,1099.3 L1321.7,1099.3 L1324.2,1097.5 L1326.9,1094.4 L1329.7,1089.2 L1332.5,1089.9 L1335.1,1090.1 L1337.6,1092.9 L1339.8,1098.4 L1341.6,1097.7 L1342.9,1099.6 L1343.8,1101.9 L1344.4,1104.5 L1345.0,1107.2 L1345.4,1109.5 L1345.9,1112.6 L1346.5,1115.4 L1347.2,1120.1 L1348.2,1123.3 L1349.5,1125.7 L1351.1,1127.5 L1352.8,1133.5 L1354.6,1134.8 L1356.2,1134.1 L1357.9,1138.8 L1359.7,1135.8 L1361.5,1137.0 L1363.3,1140.9 L1365.1,1135.3 L1366.9,1138.0 L1368.7,1141.2 L1370.5,1142.7 L1372.3,1147.2 L1374.1,1150.6 L1375.9,1152.9 L1377.7,1154.0 L1379.6,1157.8 L1381.6,1155.4 L1383.6,1156.0 L1385.7,1154.7 L1387.8,1153.4 L1389.9,1156.9 L1391.9,1158.8 L1394.0,1164.4 L1396.0,1166.8 L1397.9,1167.6 L1399.8,1167.7 L1401.6,1168.6 L1403.3,1173.1 L1405.0,1177.1 L1406.8,1181.3 L1408.5,1181.2 L1410.3,1181.8 L1412.2,1179.5 L1414.2,1176.3 L1416.3,1179.5 L1418.5,1180.7 L1420.7,1185.4 L1422.9,1192.0 L1424.9,1190.7 L1426.8,1190.4 L1428.4,1190.7 L1429.7,1191.4 L1430.9,1196.9 L1432.1,1198.5 L1433.3,1200.3 L1434.8,1203.1 L1436.5,1207.3 L1438.5,1208.7 L1440.7,1213.4 L1443.1,1212.5 L1445.6,1207.6 L1448.1,1212.8 L1450.6,1209.3 L1453.1,1208.9 L1455.5,1212.5 L1457.9,1212.7 L1460.4,1214.5 L1462.8,1215.4 L1465.3,1213.6 L1467.8,1213.2 L1470.4,1211.8 L1472.9,1211.7 L1475.4,1213.9 L1477.9,1214.5 L1480.4,1217.0 L1482.9,1218.2 L1485.4,1217.0 L1487.9,1217.0 L1490.4,1215.6 L1492.9,1215.9 L1495.4,1217.0 L1497.9,1216.6 L1500.4,1217.5 L1503.0,1217.3 L1505.5,1216.9 L1508.0,1217.1" fill="none" stroke="#000000" stroke-width="7.5" stroke-linecap="round" stroke-linejoin="round"/>
<line x1="1226" y1="1047" x2="1268" y2="1056" stroke="#000000" stroke-width="12.5" stroke-linecap="round"/>
<line x1="1296" y1="1086" x2="1340" y2="1102" stroke="#000000" stroke-width="15.5" stroke-linecap="round"/>
<line x1="1352" y1="1131" x2="1359" y2="1138" stroke="#000000" stroke-width="12" stroke-linecap="round"/>
<line x1="1388" y1="1161" x2="1404" y2="1172" stroke="#000000" stroke-width="12.5" stroke-linecap="round"/>
<line x1="1416" y1="1184" x2="1428" y2="1193" stroke="#000000" stroke-width="12" stroke-linecap="round"/>
<line x1="682.0" y1="1141.3" x2="2183.0" y2="724.0" stroke="#000000" stroke-width="4.9" stroke-dasharray="16.35 18.53" stroke-dashoffset="-2.21" stroke-linecap="round"/>
<path d="M782.6,1045.2 L785.6,1045.2 L788.6,1045.2 L791.6,1045.2 L794.6,1045.2 L797.6,1045.2 L800.7,1045.2 L803.7,1045.2 L806.7,1045.2 L809.7,1045.2 L812.7,1045.2 L815.7,1045.2 L818.7,1045.2 L821.7,1045.2 L824.7,1045.2 L827.7,1045.2 L830.7,1045.1 L833.7,1045.1 L836.8,1045.1 L839.8,1045.1 L842.8,1045.1 L845.8,1045.1 L848.8,1045.1 L851.8,1045.1 L854.8,1045.1 L857.8,1045.1 L860.8,1045.1 L863.8,1045.0 L866.8,1045.0 L869.9,1045.0 L872.9,1045.0 L875.9,1045.0 L878.9,1045.0 L881.9,1045.0 L884.9,1045.0 L887.9,1045.0 L890.9,1044.9 L893.9,1044.9 L896.9,1044.9 L899.9,1044.9 L902.9,1044.9 L906.0,1044.9 L909.0,1044.8 L912.0,1044.8 L915.0,1044.8 L918.0,1044.8 L921.0,1044.7 L924.0,1044.7 L927.0,1044.6 L930.0,1044.6 L933.0,1044.6 L936.0,1044.5 L939.1,1044.5 L942.1,1044.4 L945.1,1044.4 L948.1,1044.3 L951.1,1044.3 L954.1,1044.2 L957.1,1044.2 L960.1,1044.1 L963.1,1044.1 L966.1,1044.0 L969.1,1044.0 L972.1,1043.9 L975.2,1043.9 L978.2,1043.8 L981.2,1043.7 L984.2,1043.7 L987.2,1043.6 L990.2,1043.5 L993.2,1043.5 L996.2,1043.4 L999.2,1043.3 L1002.2,1043.3 L1005.2,1043.2 L1008.2,1043.1 L1011.3,1043.0 L1014.3,1042.9 L1017.3,1042.9 L1020.3,1042.8 L1023.3,1042.7 L1026.3,1042.6 L1029.3,1042.5 L1032.3,1042.4 L1035.3,1042.3 L1038.3,1042.3 L1041.3,1042.2 L1044.3,1042.1 L1047.4,1042.0 L1050.4,1041.9 L1053.4,1041.8 L1056.4,1041.7 L1059.4,1041.6 L1062.4,1041.5 L1065.4,1041.4 L1068.4,1041.2 L1071.4,1041.1 L1074.4,1041.0 L1077.4,1040.9 L1080.4,1040.8 L1083.4,1040.7 L1086.4,1040.6 L1089.4,1040.4 L1092.4,1040.3 L1095.4,1040.2 L1098.5,1040.1 L1101.5,1039.9 L1104.5,1039.8 L1107.5,1039.7 L1110.5,1039.5 L1113.5,1039.3 L1116.5,1039.2 L1119.5,1039.0 L1122.5,1038.8 L1125.5,1038.6 L1128.5,1038.4 L1131.5,1038.2 L1134.5,1038.0 L1137.5,1037.8 L1140.5,1037.6 L1143.5,1037.3 L1146.5,1037.1 L1149.5,1036.9 L1152.5,1036.6 L1155.5,1036.4 L1158.5,1036.1 L1161.5,1035.9 L1164.5,1035.6 L1167.5,1035.4 L1170.5,1035.1 L1173.5,1034.9 L1176.5,1034.6 L1179.5,1034.4 L1182.5,1034.1 L1185.5,1033.8 L1188.5,1033.6 L1191.5,1033.3 L1194.5,1033.1 L1197.5,1032.8 L1200.5,1032.6 L1203.5,1032.3 L1206.5,1032.0 L1209.5,1031.8 L1212.5,1031.5 L1215.5,1031.2 L1218.4,1030.9 L1221.4,1030.6 L1224.4,1030.4 L1227.4,1030.1 L1230.4,1029.8 L1233.4,1029.5 L1236.4,1029.2 L1239.4,1028.9 L1242.4,1028.6 L1245.4,1028.3 L1248.4,1027.9 L1251.4,1027.6 L1254.4,1027.3 L1257.4,1027.0 L1260.4,1026.7 L1263.4,1026.4 L1266.3,1026.1 L1269.3,1025.8 L1272.3,1025.5 L1275.3,1025.2 L1278.3,1024.9 L1281.3,1024.6 L1284.3,1024.3 L1287.3,1024.0 L1290.3,1023.6 L1293.3,1023.3 L1296.3,1023.0 L1299.3,1022.6 L1302.2,1022.2 L1305.2,1021.8 L1308.2,1021.4 L1311.2,1021.0 L1314.2,1020.6 L1317.1,1020.1 L1320.1,1019.6 L1323.1,1019.1 L1326.0,1018.6 L1329.0,1018.1 L1331.9,1017.5 L1334.9,1016.9 L1337.8,1016.3 L1340.8,1015.6 L1343.7,1014.9 L1346.6,1014.2 L1349.6,1013.5 L1352.5,1012.8 L1355.4,1012.1 L1358.3,1011.3 L1361.2,1010.5 L1364.2,1009.8 L1367.1,1009.0 L1370.0,1008.2 L1372.9,1007.3 L1375.8,1006.5 L1378.7,1005.7 L1381.5,1004.8 L1384.4,1004.0 L1387.3,1003.1 L1390.2,1002.2 L1393.0,1001.3 L1395.9,1000.4 L1398.7,999.4 L1401.5,998.4 L1404.4,997.4 L1407.2,996.3 L1410.0,995.3 L1412.8,994.2 L1415.7,993.2 L1418.5,992.1 L1421.3,991.0 L1424.1,989.9 L1426.9,988.9 L1429.7,987.8 L1432.6,986.8 L1435.4,985.7 L1438.2,984.7 L1441.1,983.7 L1443.9,982.7 L1446.7,981.6 L1449.5,980.6 L1452.4,979.6 L1455.2,978.6 L1458.0,977.5 L1460.8,976.4 L1463.6,975.4 L1466.4,974.3 L1469.2,973.1 L1472.0,972.0 L1474.8,970.9 L1477.6,969.7 L1480.4,968.5 L1483.1,967.4 L1485.9,966.2 L1488.7,965.1 L1491.5,963.9 L1494.3,962.8 L1497.0,961.7 L1499.8,960.6 L1502.7,959.5 L1505.5,958.4 L1508.3,957.4 L1511.2,956.4 L1514.0,955.4 L1516.8,954.4 L1519.7,953.4 L1522.5,952.3 L1525.3,951.3 L1528.1,950.2 L1530.9,949.0 L1533.6,947.9 L1536.4,946.6 L1539.1,945.4 L1541.8,944.1 L1544.6,942.8 L1547.3,941.5 L1550.0,940.2 L1552.7,938.9 L1555.4,937.5 L1558.1,936.2 L1560.8,934.9 L1563.5,933.6 L1566.2,932.3 L1568.9,931.0 L1571.6,929.7 L1574.3,928.3 L1577.0,927.0 L1579.7,925.7 L1582.4,924.3 L1585.1,923.0 L1587.8,921.6 L1590.5,920.3 L1593.1,918.9 L1595.8,917.5 L1598.5,916.1 L1601.1,914.6 L1603.8,913.2 L1606.4,911.8 L1609.1,910.4 L1611.7,908.9 L1614.4,907.5 L1617.1,906.2 L1619.7,904.8 L1622.5,903.5 L1625.2,902.2 L1627.9,900.9 L1630.6,899.6 L1633.3,898.2 L1636.0,896.8 L1638.6,895.4 L1641.2,893.8 L1643.7,892.2 L1646.2,890.6 L1648.7,888.8 L1651.1,887.1 L1653.6,885.3 L1656.0,883.6 L1658.4,881.8 L1660.8,880.0 L1663.2,878.2 L1665.6,876.3 L1668.0,874.4 L1670.3,872.5 L1672.6,870.6 L1674.9,868.7 L1677.2,866.7 L1679.5,864.8 L1681.8,862.8 L1684.0,860.8 L1686.2,858.8 L1688.5,856.7 L1690.7,854.7 L1692.8,852.6 L1695.0,850.5 L1697.2,848.4 L1699.3,846.3 L1701.4,844.2 L1703.6,842.1 L1705.7,839.9 L1707.7,837.7 L1709.8,835.5 L1711.9,833.3 L1713.9,831.1 L1715.9,828.9 L1718.0,826.7 L1720.0,824.4 L1721.9,822.2 L1723.9,819.9 L1725.9,817.6 L1727.8,815.3 L1729.8,813.0 L1731.7,810.7 L1733.6,808.4 L1735.5,806.0 L1737.4,803.7 L1739.2,801.3 L1741.1,799.0 L1742.9,796.6 L1744.8,794.2 L1746.6,791.8 L1748.4,789.4 L1750.2,787.0 L1752.0,784.6 L1753.8,782.2 L1755.6,779.7 L1757.3,777.3 L1759.1,774.8 L1760.8,772.4 L1762.6,769.9 L1764.3,767.5 L1766.0,765.0 L1767.7,762.5 L1769.4,760.0 L1771.1,757.5 L1772.7,755.0 L1774.4,752.5 L1776.1,750.0 L1777.7,747.5 L1779.3,744.9 L1780.9,742.4 L1782.5,739.8 L1784.1,737.3 L1785.6,734.7 L1787.2,732.1 L1788.7,729.6 L1790.3,727.0 L1791.8,724.4 L1793.3,721.8 L1794.9,719.2 L1796.4,716.6 L1797.9,714.0 L1799.4,711.4 L1800.8,708.7 L1802.3,706.1 L1803.8,703.5 L1805.2,700.8 L1806.7,698.2 L1808.1,695.5 L1809.5,692.9 L1811.0,690.2 L1812.4,687.6 L1813.8,684.9 L1815.1,682.3 L1816.5,679.6 L1817.9,676.9 L1819.2,674.2 L1820.6,671.5 L1821.9,668.8 L1823.2,666.1 L1824.5,663.4 L1825.8,660.7 L1827.1,658.0 L1828.4,655.2 L1829.6,652.5 L1830.9,649.8 L1832.2,647.0 L1833.4,644.3 L1834.6,641.5 L1835.9,638.8 L1837.1,636.0 L1838.3,633.3 L1839.5,630.5 L1840.7,627.8 L1841.8,625.0 L1843.0,622.2 L1844.2,619.5 L1845.3,616.7 L1846.5,613.9 L1847.6,611.1 L1848.8,608.3 L1849.9,605.5 L1851.0,602.7 L1852.1,600.0 L1853.3,597.2 L1854.4,594.4 L1855.5,591.6 L1856.6,588.8 L1857.6,585.9 L1858.7,583.1 L1859.8,580.3 L1860.9,577.5 L1862.0,574.7 L1863.0,571.9 L1864.1,569.1 L1865.1,566.3 L1866.2,563.5 L1867.2,560.6 L1868.3,557.8 L1869.3,555.0 L1870.3,552.1 L1871.3,549.3 L1872.3,546.5 L1873.4,543.6 L1874.4,540.8 L1875.4,538.0 L1876.4,535.1 L1877.4,532.3 L1878.4,529.5 L1879.4,526.6 L1880.4,523.8 L1881.4,521.0 L1882.4,518.1 L1883.4,515.3 L1884.4,512.4 L1885.3,509.6 L1886.3,506.7 L1887.3,503.9 L1888.3,501.0 L1889.3,498.2 L1890.2,495.4 L1891.2,492.5 L1892.2,489.7 L1893.1,486.8 L1894.1,484.0 L1895.1,481.1 L1896.0,478.3 L1897.0,475.4 L1897.9,472.6 L1898.9,469.7 L1899.8,466.8 L1900.8,464.0 L1901.7,461.1 L1902.7,458.3 L1903.6,455.4 L1904.5,452.6 L1905.5,449.7 L1906.4,446.8 L1907.3,444.0 L1908.3,441.1 L1909.2,438.2 L1910.1,435.4 L1911.0,432.5 L1912.0,429.7 L1912.9,426.8 L1913.8,423.9 L1914.7,421.1 L1915.6,418.2 L1916.5,415.3 L1917.4,412.4 L1918.3,409.6 L1919.2,406.7 L1920.1,403.8 L1921.0,401.0 L1921.9,398.1 L1922.8,395.2 L1923.7,392.3 L1924.6,389.5 L1925.5,386.6 L1926.3,383.7 L1927.2,380.8 L1928.1,378.0 L1929.0,375.1 L1929.8,372.2 L1930.7,369.3 L1931.6,366.4 L1932.5,363.6 L1933.3,360.7 L1934.2,357.8 L1935.0,354.9 L1935.9,352.0 L1936.8,349.1 L1937.6,346.3 L1938.5,343.4 L1939.3,340.5 L1940.2,337.6 L1941.0,334.7 L1941.8,331.8 L1942.7,328.9 L1943.5,326.0 L1944.3,323.2 L1945.2,320.3 L1946.0,317.4 L1946.8,314.5 L1947.7,311.6 L1948.5,308.7 L1949.3,305.8 L1950.1,302.9 L1951.0,300.0 L1951.8,297.1 L1952.6,294.2 L1953.4,291.3 L1954.2,288.4 L1955.0,285.5 L1955.8,282.6 L1956.6,279.7 L1957.4,276.8 L1958.2,273.9 L1959.0,271.0 L1959.8,268.1 L1960.6,265.2 L1961.4,262.3 L1962.2,259.4 L1963.0,256.5 L1963.8,253.6 L1964.5,250.7 L1965.3,247.8 L1966.1,244.9 L1966.9,242.0 L1967.7,239.1 L1968.4,236.2 L1969.2,233.3 L1970.0,230.4 L1970.7,227.4 L1971.5,224.5 L1972.3,221.6 L1973.0,218.7 L1973.8,215.8 L1974.5,212.9 L1975.3,210.0 L1976.1,207.1 L1976.8,204.1 L1977.6,201.2 L1978.3,198.3 L1979.0,195.4 L1979.8,192.5 L1980.5,189.6 L1981.3,186.7 L1982.0,183.7 L1982.7,180.8 L1983.5,177.9 L1984.2,175.0 L1984.9,172.1 L1985.7,169.1 L1986.4,166.2 L1987.1,163.3 L1987.8,160.4 L1988.5,157.5 L1989.3,154.5 L1990.0,151.6 L1990.7,148.7 L1991.4,145.8 L1992.1,142.8 L1992.8,139.9 L1993.5,137.0 L1994.2,134.1 L1994.9,131.1 L1995.6,128.2 L1996.3,125.3 L1997.0,122.4 L1997.7,119.4 L1998.4,116.5 L1999.1,113.6 L1999.8,110.7 L2000.5,107.7 L2001.2,104.8 L2001.9,101.9 L2002.5,98.9 L2003.2,96.0 L2003.9,93.1 L2004.6,90.1 L2005.3,87.2 L2005.9,84.3 L2006.6,81.3 L2007.3,78.4 L2007.9,75.5 L2008.6,72.5 L2009.3,69.6 L2009.9,66.7 L2010.6,63.7 L2011.3,60.8 L2011.9,57.9 L2012.6,54.9 L2013.2,52.0" fill="none" stroke="#ff0000" stroke-width="8.6" stroke-linecap="round" stroke-linejoin="round"/>
<path d="M782.6,1045.2 L785.6,1045.2 L788.6,1045.2 L791.6,1045.2 L794.6,1045.2 L797.7,1045.2 L800.7,1045.2 L803.7,1045.2 L806.7,1045.2 L809.7,1045.3 L812.7,1045.3 L815.7,1045.3 L818.7,1045.3 L821.8,1045.3 L824.8,1045.3 L827.8,1045.3 L830.8,1045.3 L833.8,1045.4 L836.8,1045.4 L839.8,1045.4 L842.8,1045.4 L845.9,1045.4 L848.9,1045.5 L851.9,1045.5 L854.9,1045.5 L857.9,1045.5 L860.9,1045.5 L863.9,1045.6 L866.9,1045.6 L870.0,1045.6 L873.0,1045.6 L876.0,1045.7 L879.0,1045.7 L882.0,1045.7 L885.0,1045.7 L888.0,1045.8 L891.0,1045.8 L894.0,1045.8 L897.1,1045.9 L900.1,1045.9 L903.1,1045.9 L906.1,1045.9 L909.1,1046.0 L912.1,1046.0 L915.1,1046.0 L918.1,1046.1 L921.2,1046.1 L924.2,1046.1 L927.2,1046.2 L930.2,1046.2 L933.2,1046.2 L936.2,1046.3 L939.2,1046.3 L942.2,1046.3 L945.3,1046.3 L948.3,1046.4 L951.3,1046.4 L954.3,1046.4 L957.3,1046.5 L960.3,1046.5 L963.3,1046.5 L966.3,1046.6 L969.3,1046.6 L972.4,1046.7 L975.4,1046.7 L978.4,1046.7 L981.4,1046.8 L984.4,1046.8 L987.4,1046.9 L990.4,1046.9 L993.5,1046.9 L996.5,1047.0 L999.5,1047.0 L1002.5,1047.1 L1005.5,1047.1 L1008.5,1047.2 L1011.5,1047.2 L1014.5,1047.3 L1017.6,1047.3 L1020.6,1047.4 L1023.6,1047.4 L1026.6,1047.5 L1029.6,1047.6 L1032.6,1047.6 L1035.6,1047.7 L1038.7,1047.7 L1041.7,1047.8 L1044.7,1047.9 L1047.7,1047.9 L1050.7,1048.0 L1053.7,1048.1 L1056.7,1048.1 L1059.7,1048.2 L1062.7,1048.3 L1065.8,1048.4 L1068.8,1048.5 L1071.8,1048.5 L1074.8,1048.6 L1077.8,1048.7 L1080.8,1048.8 L1083.8,1048.9 L1086.8,1049.0 L1089.8,1049.1 L1092.8,1049.2 L1095.8,1049.3 L1098.8,1049.4 L1101.8,1049.5 L1104.9,1049.6 L1107.9,1049.7 L1110.9,1049.9 L1113.9,1050.0 L1116.9,1050.2 L1119.9,1050.4 L1122.9,1050.6 L1125.9,1050.8 L1128.9,1051.0 L1131.9,1051.2 L1134.9,1051.4 L1137.9,1051.7 L1140.9,1051.9 L1143.9,1052.2 L1146.9,1052.4 L1149.9,1052.7 L1152.9,1053.0 L1155.9,1053.3 L1158.9,1053.6 L1161.9,1053.9 L1164.9,1054.2 L1167.9,1054.5 L1170.9,1054.8 L1173.9,1055.1 L1176.9,1055.5 L1179.9,1055.8 L1182.9,1056.1 L1185.9,1056.4 L1188.9,1056.8 L1191.9,1057.1 L1194.9,1057.4 L1197.9,1057.8 L1200.9,1058.1 L1203.9,1058.4 L1206.9,1058.8 L1209.8,1059.2 L1212.8,1059.6 L1215.8,1059.9 L1218.8,1060.4 L1221.8,1060.8 L1224.8,1061.2 L1227.8,1061.6 L1230.7,1062.1 L1233.7,1062.6 L1236.7,1063.0 L1239.7,1063.5 L1242.6,1064.0 L1245.6,1064.5 L1248.6,1065.0 L1251.5,1065.5 L1254.5,1066.1 L1257.5,1066.6 L1260.4,1067.2 L1263.4,1067.8 L1266.3,1068.3 L1269.3,1068.9 L1272.2,1069.6 L1275.2,1070.2 L1278.1,1070.9 L1281.1,1071.5 L1284.0,1072.2 L1286.9,1072.9 L1289.9,1073.6 L1292.8,1074.3 L1295.7,1075.0 L1298.7,1075.7 L1301.6,1076.5 L1304.5,1077.2 L1307.4,1078.0 L1310.3,1078.7 L1313.2,1079.5 L1316.1,1080.3 L1319.1,1081.1 L1322.0,1081.9 L1324.9,1082.7 L1327.8,1083.6 L1330.7,1084.5 L1333.6,1085.4 L1336.4,1086.4 L1339.1,1087.6 L1341.8,1088.8 L1344.5,1090.1 L1347.1,1091.6 L1349.6,1093.2 L1352.2,1094.8 L1354.7,1096.5 L1357.2,1098.3 L1359.7,1100.0 L1362.2,1101.8 L1364.6,1103.6 L1367.1,1105.3 L1369.5,1107.0 L1371.9,1108.9 L1374.3,1110.7 L1376.7,1112.6 L1379.0,1114.5 L1381.3,1116.4 L1383.7,1118.4 L1386.0,1120.3 L1388.3,1122.2 L1390.7,1124.1 L1393.0,1126.0 L1395.4,1127.8 L1397.8,1129.6 L1400.3,1131.3 L1402.7,1133.0 L1405.2,1134.7 L1407.8,1136.4 L1410.3,1138.0 L1412.8,1139.6 L1415.4,1141.2 L1418.0,1142.8 L1420.6,1144.3 L1423.2,1145.8 L1425.8,1147.4 L1428.4,1148.8 L1431.0,1150.3 L1433.7,1151.8 L1436.3,1153.2 L1439.0,1154.7 L1441.6,1156.1 L1444.3,1157.5 L1447.0,1158.9 L1449.6,1160.3 L1452.3,1161.7 L1455.0,1163.0 L1457.8,1164.3 L1460.5,1165.6 L1463.2,1166.8 L1466.0,1168.0 L1468.8,1169.2 L1471.5,1170.3 L1474.3,1171.4 L1477.1,1172.5 L1480.0,1173.5 L1482.8,1174.6 L1485.7,1175.6 L1488.5,1176.5 L1491.4,1177.5 L1494.3,1178.4 L1497.2,1179.2 L1500.1,1180.1 L1503.0,1180.9 L1505.9,1181.6 L1508.8,1182.3 L1511.7,1182.9 L1514.7,1183.5 L1517.6,1184.1 L1520.6,1184.6 L1523.6,1185.2 L1526.6,1185.7 L1529.5,1186.2 L1532.5,1186.7 L1535.5,1187.2 L1538.5,1187.8 L1541.4,1188.4 L1544.4,1189.0 L1547.3,1189.6 L1550.2,1190.3 L1553.1,1191.1 L1556.0,1191.9 L1558.9,1192.8 L1561.7,1193.7 L1564.6,1194.7 L1567.4,1195.7 L1570.3,1196.7 L1573.1,1197.7 L1576.0,1198.8 L1578.8,1199.7 L1581.7,1200.7 L1584.5,1201.6 L1587.4,1202.5 L1590.3,1203.3 L1593.2,1204.2 L1596.1,1205.0 L1599.0,1205.9 L1601.9,1206.7 L1604.8,1207.5 L1607.7,1208.3 L1610.6,1209.0 L1613.6,1209.8 L1616.5,1210.5 L1619.4,1211.2 L1622.3,1211.8 L1625.3,1212.4 L1628.2,1213.1 L1631.2,1213.6 L1634.1,1214.2 L1637.1,1214.8 L1640.1,1215.3 L1643.0,1215.8 L1646.0,1216.3 L1649.0,1216.8" fill="none" stroke="#ff0000" stroke-width="8.6" stroke-linecap="round" stroke-linejoin="round"/>
<line x1="1395" y1="1122.5" x2="1408" y2="1131.5" stroke="#ff0000" stroke-width="11.5" stroke-linecap="round"/>
<line x1="1655" y1="887" x2="1668" y2="879" stroke="#ff0000" stroke-width="11.5" stroke-linecap="round"/>
<path d="M789.6,1046.4 L792.6,1046.4 L795.6,1046.4 L798.6,1046.3 L801.6,1046.3 L804.6,1046.3 L807.6,1046.3 L810.6,1046.2 L813.6,1046.2 L816.7,1046.2 L819.7,1046.2 L822.7,1046.1 L825.7,1046.1 L828.7,1046.1 L831.7,1046.1 L834.7,1046.0 L837.7,1046.0 L840.7,1046.0 L843.7,1046.0 L846.7,1045.9 L849.7,1045.9 L852.7,1045.9 L855.7,1045.9 L858.7,1045.8 L861.7,1045.8 L864.7,1045.8 L867.8,1045.8 L870.8,1045.7 L873.8,1045.7 L876.8,1045.7 L879.8,1045.6 L882.8,1045.6 L885.8,1045.6 L888.8,1045.5 L891.8,1045.5 L894.8,1045.5 L897.8,1045.5 L900.8,1045.4 L903.8,1045.4 L906.8,1045.4 L909.8,1045.3 L912.8,1045.3 L915.8,1045.3 L918.9,1045.2 L921.9,1045.2 L924.9,1045.2 L927.9,1045.1 L930.9,1045.1 L933.9,1045.1 L936.9,1045.0 L939.9,1045.0 L942.9,1045.0 L945.9,1044.9 L948.9,1044.9 L951.9,1044.9 L954.9,1044.8 L957.9,1044.8 L960.9,1044.8 L963.9,1044.8 L966.9,1044.7 L970.0,1044.7 L973.0,1044.7 L976.0,1044.6 L979.0,1044.6 L982.0,1044.6 L985.0,1044.5 L988.0,1044.5 L991.0,1044.5 L994.0,1044.4 L997.0,1044.4 L1000.0,1044.4 L1003.0,1044.4 L1006.0,1044.3 L1009.0,1044.3 L1012.1,1044.3 L1015.1,1044.2 L1018.1,1044.2 L1021.1,1044.2 L1024.1,1044.1 L1027.1,1044.1 L1030.1,1044.1 L1033.1,1044.0 L1036.1,1044.0 L1039.1,1043.9 L1042.1,1043.9 L1045.1,1043.9 L1048.1,1043.8 L1051.1,1043.8 L1054.1,1043.7 L1057.1,1043.7 L1060.1,1043.6 L1063.2,1043.6 L1066.2,1043.5 L1069.2,1043.5 L1072.2,1043.4 L1075.2,1043.4 L1078.2,1043.3 L1081.2,1043.3 L1084.2,1043.2 L1087.2,1043.2 L1090.2,1043.1 L1093.2,1043.0 L1096.2,1043.0 L1099.2,1042.9 L1102.2,1042.8 L1105.2,1042.7 L1108.2,1042.6 L1111.2,1042.5 L1114.2,1042.4 L1117.2,1042.2 L1120.2,1042.1 L1123.2,1041.9 L1126.2,1041.7 L1129.2,1041.5 L1132.2,1041.3 L1135.2,1041.1 L1138.2,1040.9 L1141.2,1040.7 L1144.2,1040.4 L1147.2,1040.2 L1150.2,1040.0 L1153.2,1039.8 L1156.2,1039.5 L1159.2,1039.3 L1162.2,1039.1 L1165.2,1038.9 L1168.2,1038.7 L1171.2,1038.5 L1174.2,1038.4 L1177.2,1038.2 L1180.2,1038.1 L1183.2,1037.9 L1186.2,1037.8 L1189.2,1037.6 L1192.2,1037.5 L1195.2,1037.3 L1198.2,1037.1 L1201.2,1036.9 L1204.2,1036.7 L1207.2,1036.5 L1210.2,1036.2 L1213.2,1035.9 L1216.2,1035.6 L1219.2,1035.3 L1222.2,1035.0 L1225.2,1034.7 L1228.2,1034.4 L1231.2,1034.1 L1234.1,1033.7 L1237.1,1033.4 L1240.1,1033.1 L1243.1,1032.8 L1246.1,1032.5 L1249.1,1032.3 L1252.1,1032.0 L1255.1,1031.8 L1258.1,1031.5 L1261.1,1031.3 L1264.1,1031.1 L1267.1,1031.0 L1270.1,1030.8 L1273.1,1030.6 L1276.1,1030.4 L1279.1,1030.3 L1282.1,1030.1 L1285.1,1029.9 L1288.1,1029.8 L1291.1,1029.6 L1294.1,1029.4 L1297.1,1029.2 L1300.1,1029.0 L1303.1,1028.8 L1306.1,1028.6 L1309.1,1028.4 L1312.1,1028.1 L1315.1,1027.9 L1318.1,1027.6 L1321.1,1027.4 L1324.1,1027.1 L1327.1,1026.8 L1330.0,1026.5 L1333.0,1026.1 L1336.0,1025.7 L1339.0,1025.3 L1342.0,1024.9 L1344.9,1024.5 L1347.9,1024.0 L1350.9,1023.6 L1353.9,1023.1 L1356.8,1022.6 L1359.8,1022.1 L1362.8,1021.6 L1365.7,1021.1 L1368.7,1020.6 L1371.7,1020.1 L1374.6,1019.5 L1377.6,1019.0 L1380.5,1018.5 L1383.5,1018.0 L1386.5,1017.4 L1389.4,1016.9 L1392.4,1016.3 L1395.3,1015.8 L1398.3,1015.2 L1401.2,1014.6 L1404.2,1014.0 L1407.1,1013.4 L1410.1,1012.8 L1413.0,1012.2 L1415.9,1011.6 L1418.9,1010.9 L1421.8,1010.3 L1424.8,1009.6 L1427.7,1008.9 L1430.6,1008.3 L1433.5,1007.6 L1436.5,1006.9 L1439.4,1006.2 L1442.3,1005.4 L1445.2,1004.7 L1448.1,1003.9 L1451.0,1003.1 L1453.9,1002.3 L1456.8,1001.5 L1459.7,1000.7 L1462.6,999.8 L1465.5,999.0 L1468.4,998.2 L1471.2,997.3 L1474.1,996.5 L1477.0,995.7 L1479.9,994.8 L1482.8,993.9 L1485.7,993.1 L1488.5,992.2 L1491.4,991.3 L1494.3,990.4 L1497.1,989.4 L1500.0,988.5 L1502.8,987.6 L1505.7,986.6 L1508.5,985.6 L1511.4,984.7 L1514.2,983.7 L1517.1,982.6 L1519.9,981.6 L1522.7,980.6 L1525.5,979.5 L1528.3,978.4 L1531.1,977.2 L1533.8,976.1 L1536.6,974.9 L1539.3,973.6 L1542.1,972.4 L1544.8,971.1 L1547.5,969.8 L1550.2,968.5 L1552.9,967.2 L1555.6,965.8 L1558.3,964.5 L1561.0,963.1 L1563.7,961.6 L1566.3,960.2 L1568.9,958.7 L1571.6,957.3 L1574.1,955.8 L1576.7,954.3 L1579.3,952.7 L1581.8,951.2 L1584.3,949.5 L1586.8,947.9 L1589.3,946.2 L1591.8,944.5 L1594.3,942.8 L1596.7,941.0 L1599.2,939.2 L1601.6,937.4 L1604.0,935.6 L1606.4,933.8 L1608.8,932.0 L1611.2,930.2 L1613.6,928.3 L1616.0,926.5 L1618.4,924.7 L1620.7,922.8 L1623.1,921.0 L1625.5,919.1 L1627.8,917.2 L1630.1,915.3 L1632.4,913.4 L1634.8,911.5 L1637.1,909.6 L1639.4,907.7 L1641.7,905.7 L1644.0,903.8 L1646.3,901.9 L1648.7,900.0 L1651.0,898.1 L1653.3,896.2 L1655.6,894.2 L1658.0,892.3 L1660.3,890.4 L1662.6,888.4 L1664.8,886.5 L1667.1,884.5 L1669.3,882.5 L1671.5,880.5 L1673.7,878.4 L1675.9,876.4 L1678.1,874.3 L1680.2,872.2 L1682.4,870.1 L1684.5,867.9 L1686.6,865.8 L1688.7,863.6 L1690.7,861.4 L1692.8,859.2 L1694.9,857.0 L1696.9,854.8 L1698.9,852.6 L1700.9,850.3 L1702.9,848.1 L1704.9,845.8 L1706.8,843.6 L1708.8,841.3 L1710.8,839.0 L1712.7,836.7 L1714.6,834.4 L1716.6,832.1 L1718.5,829.8 L1720.4,827.4 L1722.3,825.1 L1724.2,822.7 L1726.1,820.4 L1727.9,818.0 L1729.8,815.6 L1731.6,813.2 L1733.4,810.8 L1735.2,808.4 L1737.0,806.0 L1738.8,803.6 L1740.5,801.2 L1742.3,798.7 L1744.0,796.3 L1745.7,793.8 L1747.4,791.3 L1749.1,788.8 L1750.7,786.3 L1752.4,783.8 L1754.0,781.3 L1755.6,778.8 L1757.2,776.3 L1758.8,773.7 L1760.4,771.1 L1762.0,768.6 L1763.6,766.0 L1765.1,763.4 L1766.7,760.8 L1768.2,758.2 L1769.7,755.6 L1771.3,753.0 L1772.8,750.4 L1774.3,747.8 L1775.7,745.2 L1777.2,742.5 L1778.7,739.9 L1780.1,737.3 L1781.5,734.6 L1783.0,732.0 L1784.4,729.4 L1785.8,726.7 L1787.2,724.0 L1788.5,721.4 L1789.9,718.7 L1791.2,716.0 L1792.6,713.3 L1793.9,710.6 L1795.2,707.9 L1796.5,705.2 L1797.8,702.4 L1799.0,699.7 L1800.3,697.0 L1801.6,694.3 L1802.8,691.5 L1804.1,688.8 L1805.3,686.1 L1806.6,683.3 L1807.8,680.6 L1809.0,677.8 L1810.2,675.1 L1811.4,672.3 L1812.6,669.6 L1813.8,666.8 L1815.0,664.0 L1816.2,661.3 L1817.4,658.5 L1818.5,655.7 L1819.7,653.0 L1820.8,650.2 L1822.0,647.4 L1823.1,644.6 L1824.2,641.8 L1825.4,639.0 L1826.5,636.2 L1827.6,633.5 L1828.7,630.7 L1829.8,627.9 L1830.9,625.1 L1832.0,622.3 L1833.0,619.5 L1834.1,616.6 L1835.2,613.8 L1836.2,611.0 L1837.3,608.2 L1838.3,605.4 L1839.4,602.6 L1840.4,599.7 L1841.4,596.9 L1842.4,594.1 L1843.5,591.2 L1844.5,588.4 L1845.5,585.6 L1846.5,582.7 L1847.5,579.9 L1848.5,577.1 L1849.4,574.2 L1850.4,571.4 L1851.4,568.5 L1852.3,565.7 L1853.3,562.8 L1854.3,560.0 L1855.2,557.1 L1856.1,554.3 L1857.1,551.4 L1858.0,548.6 L1858.9,545.7 L1859.9,542.9 L1860.8,540.0 L1861.7,537.1 L1862.6,534.3 L1863.5,531.4 L1864.4,528.5 L1865.3,525.6 L1866.2,522.8 L1867.1,519.9 L1867.9,517.0 L1868.8,514.2 L1869.7,511.3 L1870.6,508.4 L1871.5,505.5 L1872.3,502.7 L1873.2,499.8 L1874.0,496.9 L1874.9,494.0 L1875.7,491.1 L1876.6,488.2 L1877.4,485.3 L1878.2,482.5 L1879.1,479.6 L1879.9,476.7 L1880.7,473.8 L1881.5,470.9 L1882.4,468.0 L1883.2,465.1 L1884.0,462.2 L1884.8,459.3 L1885.6,456.4 L1886.4,453.5 L1887.2,450.6 L1888.0,447.7 L1888.8,444.8 L1889.6,441.9 L1890.4,439.0 L1891.2,436.1 L1892.0,433.2 L1892.8,430.3 L1893.5,427.4 L1894.3,424.5 L1895.1,421.6 L1895.9,418.7 L1896.7,415.8 L1897.4,412.9 L1898.2,410.0 L1899.0,407.1 L1899.7,404.2 L1900.5,401.3 L1901.3,398.4 L1902.0,395.5 L1902.8,392.6 L1903.5,389.7 L1904.3,386.7 L1905.0,383.8 L1905.8,380.9 L1906.5,378.0 L1907.3,375.1 L1908.0,372.2 L1908.8,369.3 L1909.5,366.4 L1910.2,363.4 L1911.0,360.5 L1911.7,357.6 L1912.5,354.7 L1913.2,351.8 L1913.9,348.9 L1914.6,345.9 L1915.4,343.0 L1916.1,340.1 L1916.8,337.2 L1917.5,334.3 L1918.2,331.4 L1918.9,328.4 L1919.6,325.5 L1920.4,322.6 L1921.1,319.7 L1921.8,316.7 L1922.5,313.8 L1923.2,310.9 L1923.9,308.0 L1924.6,305.1 L1925.3,302.1 L1926.0,299.2 L1926.6,296.3 L1927.3,293.4 L1928.0,290.4 L1928.7,287.5 L1929.4,284.6 L1930.1,281.6 L1930.7,278.7 L1931.4,275.8 L1932.1,272.9 L1932.8,269.9 L1933.4,267.0 L1934.1,264.1 L1934.8,261.1 L1935.4,258.2 L1936.1,255.3 L1936.8,252.3 L1937.4,249.4 L1938.1,246.5 L1938.7,243.5 L1939.4,240.6 L1940.0,237.7 L1940.7,234.7 L1941.3,231.8 L1942.0,228.9 L1942.6,225.9 L1943.3,223.0 L1943.9,220.1 L1944.5,217.1 L1945.2,214.2 L1945.8,211.2 L1946.4,208.3 L1947.1,205.4 L1947.7,202.4 L1948.3,199.5 L1949.0,196.5 L1949.6,193.6 L1950.2,190.7 L1950.8,187.7 L1951.4,184.8 L1952.0,181.8 L1952.7,178.9 L1953.3,175.9 L1953.9,173.0 L1954.5,170.1 L1955.1,167.1 L1955.7,164.2 L1956.3,161.2 L1956.9,158.3 L1957.5,155.3 L1958.1,152.4 L1958.7,149.4 L1959.3,146.5 L1959.9,143.5 L1960.5,140.6 L1961.0,137.6 L1961.6,134.7 L1962.2,131.8 L1962.8,128.8 L1963.4,125.9 L1964.0,122.9 L1964.5,120.0 L1965.1,117.0 L1965.7,114.0 L1966.2,111.1 L1966.8,108.1 L1967.4,105.2 L1967.9,102.2 L1968.5,99.3 L1969.1,96.3 L1969.6,93.4 L1970.2,90.4 L1970.7,87.5 L1971.3,84.5 L1971.9,81.6 L1972.4,78.6 L1973.0,75.7 L1973.5,72.7 L1974.1,69.7 L1974.6,66.8 L1975.1,63.8 L1975.7,60.9 L1976.2,57.9 L1976.8,55.0 L1977.3,52.0" fill="none" stroke="#0000ff" stroke-width="8.6" stroke-linecap="round" stroke-linejoin="round"/>
<path d="M789.6,1046.4 L792.6,1046.4 L795.6,1046.4 L798.6,1046.5 L801.7,1046.5 L804.7,1046.5 L807.7,1046.5 L810.7,1046.6 L813.7,1046.6 L816.7,1046.6 L819.7,1046.6 L822.8,1046.6 L825.8,1046.7 L828.8,1046.7 L831.8,1046.7 L834.8,1046.7 L837.8,1046.8 L840.8,1046.8 L843.8,1046.8 L846.9,1046.8 L849.9,1046.9 L852.9,1046.9 L855.9,1046.9 L858.9,1046.9 L861.9,1046.9 L864.9,1047.0 L868.0,1047.0 L871.0,1047.0 L874.0,1047.0 L877.0,1047.1 L880.0,1047.1 L883.0,1047.1 L886.0,1047.1 L889.1,1047.2 L892.1,1047.2 L895.1,1047.2 L898.1,1047.2 L901.1,1047.3 L904.1,1047.3 L907.1,1047.3 L910.2,1047.4 L913.2,1047.4 L916.2,1047.4 L919.2,1047.4 L922.2,1047.5 L925.2,1047.5 L928.2,1047.5 L931.2,1047.5 L934.3,1047.6 L937.3,1047.6 L940.3,1047.6 L943.3,1047.6 L946.3,1047.7 L949.3,1047.7 L952.3,1047.7 L955.4,1047.7 L958.4,1047.8 L961.4,1047.8 L964.4,1047.8 L967.4,1047.8 L970.4,1047.9 L973.4,1047.9 L976.5,1047.9 L979.5,1047.9 L982.5,1048.0 L985.5,1048.0 L988.5,1048.0 L991.5,1048.0 L994.5,1048.1 L997.6,1048.1 L1000.6,1048.1 L1003.6,1048.1 L1006.6,1048.1 L1009.6,1048.2 L1012.6,1048.2 L1015.6,1048.2 L1018.7,1048.2 L1021.7,1048.3 L1024.7,1048.3 L1027.7,1048.3 L1030.7,1048.3 L1033.7,1048.4 L1036.7,1048.4 L1039.8,1048.4 L1042.8,1048.5 L1045.8,1048.5 L1048.8,1048.5 L1051.8,1048.5 L1054.8,1048.6 L1057.8,1048.6 L1060.9,1048.6 L1063.9,1048.7 L1066.9,1048.7 L1069.9,1048.8 L1072.9,1048.8 L1075.9,1048.8 L1078.9,1048.9 L1081.9,1048.9 L1085.0,1049.0 L1088.0,1049.0 L1091.0,1049.0 L1094.0,1049.1 L1097.0,1049.1 L1100.0,1049.2 L1103.0,1049.3 L1106.0,1049.3 L1109.1,1049.4 L1112.1,1049.5 L1115.1,1049.5 L1118.1,1049.6 L1121.1,1049.7 L1124.1,1049.8 L1127.2,1050.0 L1130.2,1050.1 L1133.2,1050.2 L1136.2,1050.3 L1139.2,1050.5 L1142.2,1050.6 L1145.2,1050.8 L1148.2,1050.9 L1151.2,1051.1 L1154.2,1051.3 L1157.2,1051.4 L1160.2,1051.6 L1163.2,1051.9 L1166.2,1052.2 L1169.2,1052.5 L1172.2,1052.9 L1175.2,1053.3 L1178.2,1053.7 L1181.2,1054.1 L1184.2,1054.6 L1187.2,1055.0 L1190.2,1055.4 L1193.1,1055.8 L1196.1,1056.1 L1199.1,1056.4 L1202.1,1056.7 L1205.1,1056.9 L1208.2,1057.1 L1211.2,1057.3 L1214.2,1057.5 L1217.2,1057.7 L1220.2,1057.9 L1223.2,1058.1 L1226.2,1058.3 L1229.2,1058.6 L1232.2,1058.9 L1235.2,1059.3 L1238.2,1059.7 L1241.2,1060.1 L1244.1,1060.5 L1247.1,1061.0 L1250.1,1061.5 L1253.1,1061.9 L1256.1,1062.4 L1259.0,1062.8 L1262.0,1063.3 L1265.0,1063.7 L1268.0,1064.2 L1271.0,1064.6 L1274.0,1065.1 L1277.0,1065.6 L1279.9,1066.1 L1282.9,1066.6 L1285.9,1067.1 L1288.9,1067.6 L1291.9,1068.1 L1294.8,1068.6 L1297.8,1069.2 L1300.7,1069.8 L1303.7,1070.4 L1306.6,1071.0 L1309.5,1071.7 L1312.4,1072.3 L1315.4,1073.0 L1318.3,1073.8 L1321.2,1074.6 L1324.1,1075.4 L1327.0,1076.2 L1329.9,1077.1 L1332.8,1078.0 L1335.7,1078.9 L1338.6,1079.9 L1341.4,1080.8 L1344.3,1081.8 L1347.1,1082.9 L1350.0,1083.9 L1352.8,1085.0 L1355.6,1086.0 L1358.4,1087.1 L1361.2,1088.3 L1364.0,1089.4 L1366.8,1090.5 L1369.5,1091.7 L1372.2,1092.9 L1374.9,1094.2 L1377.6,1095.6 L1380.3,1096.9 L1382.9,1098.4 L1385.6,1099.8 L1388.2,1101.3 L1390.9,1102.8 L1393.5,1104.3 L1396.1,1105.8 L1398.7,1107.3 L1401.3,1108.9 L1404.0,1110.4 L1406.6,1111.9 L1409.2,1113.4 L1411.8,1114.9 L1414.4,1116.4 L1417.1,1117.9 L1419.7,1119.4 L1422.3,1120.9 L1424.9,1122.4 L1427.5,1123.9 L1430.1,1125.5 L1432.7,1127.0 L1435.3,1128.6 L1437.9,1130.1 L1440.4,1131.6 L1443.0,1133.2 L1445.6,1134.7 L1448.2,1136.2 L1450.9,1137.7 L1453.5,1139.2 L1456.1,1140.7 L1458.7,1142.2 L1461.4,1143.6 L1464.0,1145.1 L1466.7,1146.5 L1469.4,1147.9 L1472.0,1149.2 L1474.7,1150.6 L1477.4,1152.0 L1480.1,1153.4 L1482.7,1154.8 L1485.4,1156.2 L1488.0,1157.7 L1490.7,1159.2 L1493.3,1160.7 L1495.9,1162.2 L1498.4,1163.8 L1501.0,1165.4 L1503.5,1167.0 L1506.1,1168.6 L1508.6,1170.2 L1511.1,1171.9 L1513.6,1173.6 L1516.1,1175.2 L1518.7,1176.9 L1521.2,1178.6 L1523.7,1180.2 L1526.2,1181.9 L1528.8,1183.5 L1531.3,1185.1 L1533.8,1186.7 L1536.4,1188.4 L1538.9,1190.0 L1541.4,1191.6 L1544.0,1193.2 L1546.5,1194.9 L1549.1,1196.5 L1551.6,1198.1 L1554.2,1199.7 L1556.7,1201.3 L1559.3,1202.9 L1561.8,1204.5 L1564.4,1206.1 L1566.9,1207.7 L1569.5,1209.3 L1572.0,1210.9 L1574.6,1212.6 L1577.1,1214.2 L1579.7,1215.8 L1582.3,1217.4 L1584.8,1218.9 L1587.4,1220.5 L1590.0,1222.0 L1592.7,1223.5 L1595.3,1224.9 L1598.0,1226.3 L1600.6,1227.7 L1603.3,1229.1 L1606.0,1230.5 L1608.7,1231.8 L1611.5,1233.2 L1614.2,1234.4 L1617.0,1235.6 L1619.8,1236.7 L1622.6,1237.7 L1625.4,1238.6 L1628.3,1239.5 L1631.2,1240.2 L1634.1,1241.0 L1637.0,1241.7 L1640.0,1242.3 L1643.0,1242.9 L1646.0,1243.4 L1649.0,1243.8" fill="none" stroke="#0000ff" stroke-width="8.6" stroke-linecap="round" stroke-linejoin="round"/>
<line x1="1486" y1="1155" x2="1500" y2="1163" stroke="#0000ff" stroke-width="11.5" stroke-linecap="round"/>
<line x1="776.0" y1="1182.0" x2="2075.5" y2="831.5" stroke="#0000ff" stroke-width="5.8" stroke-dasharray="15.49 19.31" stroke-dashoffset="-2.61" stroke-linecap="round"/>
<path d="M555.0,998.0 L558.0,998.0 L561.0,997.9 L564.0,997.9 L567.0,997.9 L570.0,997.9 L573.0,997.8 L576.1,997.8 L579.1,997.8 L582.1,997.7 L585.1,997.7 L588.1,997.7 L591.1,997.6 L594.1,997.6 L597.1,997.6 L600.1,997.6 L603.1,997.5 L606.1,997.5 L609.1,997.5 L612.1,997.4 L615.1,997.4 L618.2,997.4 L621.2,997.3 L624.2,997.3 L627.2,997.3 L630.2,997.3 L633.2,997.2 L636.2,997.2 L639.2,997.2 L642.2,997.1 L645.2,997.1 L648.2,997.1 L651.2,997.0 L654.2,997.0 L657.3,997.0 L660.3,997.0 L663.3,996.9 L666.3,996.9 L669.3,996.9 L672.3,996.8 L675.3,996.8 L678.3,996.8 L681.3,996.8 L684.3,996.7 L687.3,996.7 L690.3,996.7 L693.3,996.7 L696.3,996.6 L699.4,996.6 L702.4,996.6 L705.4,996.6 L708.4,996.5 L711.4,996.5 L714.4,996.5 L717.4,996.5 L720.4,996.5 L723.4,996.4 L726.4,996.4 L729.4,996.4 L732.4,996.4 L735.4,996.4 L738.5,996.3 L741.5,996.3 L744.5,996.3 L747.5,996.3 L750.5,996.3 L753.5,996.3 L756.5,996.2 L759.5,996.2 L762.5,996.2 L765.5,996.2 L768.5,996.2 L771.5,996.1 L774.5,996.1 L777.6,996.1 L780.6,996.1 L783.6,996.1 L786.6,996.1 L789.6,996.0 L792.6,996.0 L795.6,996.0 L798.6,996.0 L801.6,996.0 L804.6,996.0 L807.6,995.9 L810.6,995.9 L813.6,995.9 L816.6,995.9 L819.7,995.9 L822.7,995.9 L825.7,995.9 L828.7,995.8 L831.7,995.8 L834.7,995.8 L837.7,995.8 L840.7,995.8 L843.7,995.8 L846.7,995.7 L849.7,995.7 L852.7,995.7 L855.7,995.7 L858.8,995.7 L861.8,995.7 L864.8,995.7 L867.8,995.6 L870.8,995.6 L873.8,995.6 L876.8,995.6 L879.8,995.6 L882.8,995.6 L885.8,995.6 L888.8,995.6 L891.8,995.5 L894.8,995.5 L897.9,995.5 L900.9,995.5 L903.9,995.5 L906.9,995.5 L909.9,995.5 L912.9,995.5 L915.9,995.4 L918.9,995.4 L921.9,995.4 L924.9,995.4 L927.9,995.4 L930.9,995.4 L933.9,995.4 L937.0,995.4 L940.0,995.4 L943.0,995.3 L946.0,995.3 L949.0,995.3 L952.0,995.3 L955.0,995.3 L958.0,995.2 L961.0,995.2 L964.0,995.1 L967.0,995.0 L970.0,995.0 L973.0,994.9 L976.0,994.8 L979.0,994.7 L982.1,994.6 L985.1,994.5 L988.1,994.4 L991.1,994.3 L994.1,994.2 L997.1,994.1 L1000.1,993.9 L1003.1,993.8 L1006.1,993.7 L1009.1,993.6 L1012.1,993.4 L1015.1,993.3 L1018.1,993.2 L1021.1,993.1 L1024.1,992.9 L1027.1,992.8 L1030.1,992.7 L1033.1,992.6 L1036.1,992.5 L1039.2,992.3 L1042.2,992.2 L1045.2,992.1 L1048.2,991.9 L1051.2,991.8 L1054.2,991.6 L1057.2,991.5 L1060.2,991.3 L1063.2,991.2 L1066.2,991.0 L1069.2,990.9 L1072.2,990.7 L1075.2,990.5 L1078.2,990.3 L1081.2,990.2 L1084.2,990.0 L1087.2,989.8 L1090.2,989.6 L1093.2,989.4 L1096.2,989.2 L1099.2,989.0 L1102.2,988.8 L1105.2,988.5 L1108.2,988.3 L1111.2,988.1 L1114.2,987.8 L1117.2,987.5 L1120.2,987.3 L1123.2,987.0 L1126.2,986.8 L1129.2,986.5 L1132.2,986.2 L1135.2,986.0 L1138.2,985.7 L1141.2,985.4 L1144.2,985.2 L1147.2,984.9 L1150.2,984.7 L1153.2,984.4 L1156.2,984.2 L1159.2,983.9 L1162.2,983.7 L1165.2,983.5 L1168.2,983.3 L1171.2,983.1 L1174.2,982.9 L1177.2,982.7 L1180.2,982.5 L1183.2,982.3 L1186.2,982.1 L1189.2,981.8 L1192.2,981.6 L1195.2,981.4 L1198.2,981.2 L1201.1,980.9 L1204.1,980.7 L1207.1,980.4 L1210.1,980.1 L1213.1,979.9 L1216.1,979.6 L1219.1,979.3 L1222.1,979.0 L1225.1,978.7 L1228.1,978.4 L1231.1,978.1 L1234.1,977.8 L1237.1,977.5 L1240.1,977.2 L1243.1,976.8 L1246.0,976.5 L1249.0,976.1 L1252.0,975.7 L1255.0,975.4 L1258.0,975.0 L1261.0,974.6 L1263.9,974.1 L1266.9,973.7 L1269.9,973.2 L1272.9,972.8 L1275.8,972.3 L1278.8,971.8 L1281.8,971.3 L1284.7,970.8 L1287.7,970.3 L1290.7,969.7 L1293.6,969.2 L1296.6,968.6 L1299.5,968.1 L1302.5,967.5 L1305.4,966.9 L1308.4,966.3 L1311.3,965.6 L1314.2,964.9 L1317.1,964.2 L1320.1,963.5 L1323.0,962.8 L1325.9,962.1 L1328.8,961.4 L1331.8,960.7 L1334.7,960.0 L1337.6,959.3 L1340.6,958.7 L1343.5,958.0 L1346.4,957.4 L1349.4,956.8 L1352.3,956.2 L1355.3,955.6 L1358.2,955.0 L1361.2,954.4 L1364.1,953.7 L1367.1,953.1 L1370.0,952.4 L1372.9,951.7 L1375.8,950.9 L1378.7,950.2 L1381.6,949.4 L1384.6,948.7 L1387.5,947.9 L1390.4,947.1 L1393.3,946.2 L1396.2,945.4 L1399.0,944.5 L1401.9,943.6 L1404.8,942.7 L1407.6,941.8 L1410.4,940.8 L1413.3,939.8 L1416.1,938.7 L1418.9,937.6 L1421.7,936.5 L1424.5,935.4 L1427.2,934.2 L1430.0,933.0 L1432.8,931.8 L1435.5,930.6 L1438.3,929.3 L1441.0,928.1 L1443.7,926.8 L1446.5,925.6 L1449.2,924.3 L1451.9,923.0 L1454.6,921.7 L1457.3,920.3 L1460.0,919.0 L1462.7,917.6 L1465.3,916.3 L1468.0,914.9 L1470.7,913.5 L1473.4,912.1 L1476.0,910.7 L1478.7,909.3 L1481.4,907.9 L1484.0,906.5 L1486.7,905.1 L1489.3,903.7 L1492.0,902.3 L1494.7,900.9 L1497.3,899.5 L1500.0,898.1 L1502.6,896.7 L1505.3,895.2 L1507.9,893.8 L1510.6,892.3 L1513.2,890.9 L1515.8,889.4 L1518.5,887.9 L1521.1,886.4 L1523.6,884.9 L1526.2,883.3 L1528.8,881.8 L1531.3,880.2 L1533.8,878.6 L1536.4,877.0 L1538.9,875.3 L1541.4,873.7 L1543.9,872.0 L1546.4,870.3 L1548.9,868.6 L1551.4,866.9 L1553.8,865.1 L1556.3,863.4 L1558.7,861.6 L1561.2,859.8 L1563.6,858.1 L1566.0,856.2 L1568.4,854.4 L1570.8,852.6 L1573.2,850.8 L1575.6,848.9 L1577.9,847.0 L1580.3,845.2 L1582.6,843.3 L1584.9,841.4 L1587.2,839.4 L1589.5,837.5 L1591.8,835.6 L1594.0,833.6 L1596.3,831.6 L1598.5,829.6 L1600.7,827.6 L1603.0,825.5 L1605.2,823.5 L1607.4,821.4 L1609.5,819.3 L1611.7,817.2 L1613.9,815.1 L1616.0,813.0 L1618.1,810.8 L1620.3,808.7 L1622.4,806.5 L1624.5,804.4 L1626.5,802.2 L1628.6,800.1 L1630.7,797.9 L1632.7,795.7 L1634.7,793.5 L1636.8,791.2 L1638.8,789.0 L1640.8,786.7 L1642.7,784.5 L1644.7,782.2 L1646.7,779.9 L1648.6,777.6 L1650.6,775.3 L1652.5,773.0 L1654.4,770.7 L1656.4,768.4 L1658.3,766.0 L1660.2,763.7 L1662.1,761.4 L1663.9,759.0 L1665.8,756.7 L1667.7,754.3 L1669.5,751.9 L1671.4,749.6 L1673.3,747.2 L1675.1,744.8 L1676.9,742.5 L1678.8,740.1 L1680.6,737.7 L1682.4,735.3 L1684.2,732.9 L1686.0,730.5 L1687.8,728.1 L1689.6,725.6 L1691.4,723.2 L1693.1,720.8 L1694.9,718.3 L1696.7,715.9 L1698.4,713.4 L1700.1,711.0 L1701.9,708.5 L1703.6,706.0 L1705.3,703.6 L1707.0,701.1 L1708.8,698.6 L1710.4,696.1 L1712.1,693.7 L1713.8,691.2 L1715.5,688.7 L1717.2,686.2 L1718.8,683.7 L1720.5,681.2 L1722.1,678.6 L1723.7,676.1 L1725.4,673.6 L1727.0,671.0 L1728.6,668.5 L1730.2,666.0 L1731.8,663.4 L1733.4,660.8 L1734.9,658.3 L1736.5,655.7 L1738.1,653.1 L1739.6,650.6 L1741.2,648.0 L1742.7,645.4 L1744.2,642.8 L1745.8,640.2 L1747.3,637.6 L1748.8,635.0 L1750.3,632.4 L1751.8,629.8 L1753.3,627.2 L1754.8,624.6 L1756.2,621.9 L1757.7,619.3 L1759.2,616.7 L1760.6,614.1 L1762.1,611.4 L1763.5,608.8 L1764.9,606.1 L1766.4,603.5 L1767.8,600.8 L1769.2,598.2 L1770.6,595.5 L1772.0,592.9 L1773.4,590.2 L1774.8,587.5 L1776.2,584.9 L1777.6,582.2 L1779.0,579.5 L1780.3,576.8 L1781.7,574.2 L1783.1,571.5 L1784.4,568.8 L1785.8,566.1 L1787.1,563.4 L1788.4,560.7 L1789.7,558.0 L1791.0,555.3 L1792.4,552.6 L1793.7,549.9 L1795.0,547.2 L1796.3,544.5 L1797.5,541.7 L1798.8,539.0 L1800.1,536.3 L1801.4,533.6 L1802.7,530.9 L1803.9,528.1 L1805.2,525.4 L1806.5,522.7 L1807.7,519.9 L1808.9,517.2 L1810.2,514.4 L1811.4,511.7 L1812.6,509.0 L1813.9,506.2 L1815.1,503.5 L1816.3,500.7 L1817.5,498.0 L1818.7,495.2 L1819.9,492.4 L1821.1,489.7 L1822.3,486.9 L1823.5,484.2 L1824.7,481.4 L1825.9,478.6 L1827.1,475.9 L1828.2,473.1 L1829.4,470.3 L1830.6,467.6 L1831.8,464.8 L1832.9,462.0 L1834.1,459.2 L1835.2,456.5 L1836.4,453.7 L1837.5,450.9 L1838.7,448.1 L1839.8,445.4 L1841.0,442.6 L1842.1,439.8 L1843.3,437.0 L1844.4,434.2 L1845.5,431.4 L1846.7,428.7 L1847.8,425.9 L1848.9,423.1 L1850.0,420.3 L1851.2,417.5 L1852.3,414.7 L1853.4,411.9 L1854.5,409.1 L1855.6,406.3 L1856.7,403.5 L1857.8,400.7 L1859.0,397.9 L1860.1,395.1 L1861.2,392.3 L1862.3,389.5 L1863.3,386.7 L1864.4,383.9 L1865.5,381.1 L1866.6,378.3 L1867.7,375.5 L1868.8,372.7 L1869.9,369.9 L1870.9,367.1 L1872.0,364.3 L1873.1,361.5 L1874.2,358.7 L1875.2,355.9 L1876.3,353.0 L1877.4,350.2 L1878.4,347.4 L1879.5,344.6 L1880.5,341.8 L1881.6,339.0 L1882.6,336.2 L1883.7,333.3 L1884.7,330.5 L1885.8,327.7 L1886.8,324.9 L1887.8,322.0 L1888.9,319.2 L1889.9,316.4 L1890.9,313.6 L1891.9,310.7 L1893.0,307.9 L1894.0,305.1 L1895.0,302.2 L1896.0,299.4 L1897.0,296.6 L1898.0,293.7 L1899.0,290.9 L1900.0,288.1 L1901.0,285.2 L1902.0,282.4 L1903.0,279.6 L1904.0,276.7 L1905.0,273.9 L1906.0,271.0 L1906.9,268.2 L1907.9,265.3 L1908.9,262.5 L1909.9,259.7 L1910.8,256.8 L1911.8,254.0 L1912.8,251.1 L1913.7,248.3 L1914.7,245.4 L1915.6,242.6 L1916.6,239.7 L1917.5,236.8 L1918.5,234.0 L1919.4,231.1 L1920.4,228.3 L1921.3,225.4 L1922.2,222.6 L1923.2,219.7 L1924.1,216.8 L1925.0,214.0 L1925.9,211.1 L1926.8,208.2 L1927.7,205.4 L1928.6,202.5 L1929.6,199.6 L1930.5,196.8 L1931.4,193.9 L1932.2,191.0 L1933.1,188.2 L1934.0,185.3 L1934.9,182.4 L1935.8,179.5 L1936.7,176.7 L1937.5,173.8 L1938.4,170.9 L1939.3,168.0 L1940.1,165.1 L1941.0,162.3 L1941.9,159.4 L1942.7,156.5 L1943.6,153.6 L1944.4,150.7 L1945.3,147.8 L1946.1,145.0 L1946.9,142.1 L1947.8,139.2 L1948.6,136.3 L1949.4,133.4 L1950.3,130.5 L1951.1,127.6 L1951.9,124.7 L1952.7,121.8 L1953.5,118.9 L1954.3,116.0 L1955.1,113.1 L1955.9,110.2 L1956.7,107.3 L1957.5,104.4 L1958.3,101.5 L1959.1,98.6 L1959.8,95.7 L1960.6,92.8 L1961.4,89.9 L1962.1,87.0 L1962.9,84.1 L1963.7,81.2 L1964.4,78.2 L1965.2,75.3 L1965.9,72.4 L1966.7,69.5 L1967.4,66.6 L1968.1,63.7 L1968.9,60.8 L1969.6,57.8 L1970.3,54.9 L1971.0,52.0" fill="none" stroke="#008000" stroke-width="8.6" stroke-linecap="round" stroke-linejoin="round"/>
<path d="M555.0,998.0 L558.0,998.0 L561.0,998.0 L564.0,998.0 L567.1,998.0 L570.1,998.0 L573.1,998.0 L576.1,998.1 L579.1,998.1 L582.1,998.1 L585.1,998.1 L588.1,998.1 L591.2,998.1 L594.2,998.1 L597.2,998.1 L600.2,998.1 L603.2,998.1 L606.2,998.1 L609.2,998.1 L612.2,998.2 L615.3,998.2 L618.3,998.2 L621.3,998.2 L624.3,998.2 L627.3,998.2 L630.3,998.2 L633.3,998.2 L636.4,998.2 L639.4,998.3 L642.4,998.3 L645.4,998.3 L648.4,998.3 L651.4,998.3 L654.4,998.3 L657.4,998.3 L660.5,998.3 L663.5,998.3 L666.5,998.4 L669.5,998.4 L672.5,998.4 L675.5,998.4 L678.5,998.4 L681.5,998.4 L684.6,998.4 L687.6,998.4 L690.6,998.5 L693.6,998.5 L696.6,998.5 L699.6,998.5 L702.6,998.5 L705.6,998.5 L708.7,998.5 L711.7,998.6 L714.7,998.6 L717.7,998.6 L720.7,998.6 L723.7,998.6 L726.7,998.6 L729.8,998.6 L732.8,998.6 L735.8,998.7 L738.8,998.7 L741.8,998.7 L744.8,998.7 L747.8,998.7 L750.8,998.7 L753.9,998.7 L756.9,998.7 L759.9,998.8 L762.9,998.8 L765.9,998.8 L768.9,998.8 L771.9,998.8 L774.9,998.8 L778.0,998.8 L781.0,998.9 L784.0,998.9 L787.0,998.9 L790.0,998.9 L793.0,998.9 L796.0,998.9 L799.1,999.0 L802.1,999.0 L805.1,999.0 L808.1,999.0 L811.1,999.0 L814.1,999.0 L817.1,999.1 L820.1,999.1 L823.2,999.1 L826.2,999.1 L829.2,999.1 L832.2,999.2 L835.2,999.2 L838.2,999.2 L841.2,999.2 L844.2,999.3 L847.3,999.3 L850.3,999.3 L853.3,999.3 L856.3,999.4 L859.3,999.4 L862.3,999.4 L865.3,999.4 L868.4,999.5 L871.4,999.5 L874.4,999.5 L877.4,999.5 L880.4,999.6 L883.4,999.6 L886.4,999.6 L889.4,999.7 L892.5,999.7 L895.5,999.7 L898.5,999.8 L901.5,999.8 L904.5,999.9 L907.5,999.9 L910.5,1000.0 L913.5,1000.1 L916.5,1000.2 L919.6,1000.3 L922.6,1000.5 L925.6,1000.6 L928.6,1000.7 L931.6,1000.8 L934.6,1000.9 L937.6,1001.0 L940.6,1001.1 L943.7,1001.1 L946.7,1001.2 L949.7,1001.2 L952.7,1001.2 L955.7,1001.2 L958.7,1001.2 L961.7,1001.2 L964.7,1001.3 L967.8,1001.3 L970.8,1001.3 L973.8,1001.3 L976.8,1001.3 L979.8,1001.3 L982.8,1001.3 L985.8,1001.3 L988.8,1001.3 L991.9,1001.3 L994.9,1001.3 L997.9,1001.3 L1000.9,1001.3 L1003.9,1001.3 L1006.9,1001.3 L1009.9,1001.3 L1013.0,1001.3 L1016.0,1001.4 L1019.0,1001.4 L1022.0,1001.4 L1025.0,1001.4 L1028.0,1001.4 L1031.0,1001.4 L1034.0,1001.5 L1037.0,1001.6 L1040.1,1001.6 L1043.1,1001.8 L1046.1,1001.9 L1049.1,1002.0 L1052.1,1002.2 L1055.1,1002.3 L1058.1,1002.5 L1061.1,1002.7 L1064.1,1002.9 L1067.1,1003.1 L1070.2,1003.3 L1073.2,1003.5 L1076.2,1003.7 L1079.2,1003.9 L1082.2,1004.1 L1085.2,1004.3 L1088.2,1004.5 L1091.2,1004.7 L1094.2,1005.0 L1097.2,1005.2 L1100.2,1005.4 L1103.2,1005.6 L1106.2,1005.9 L1109.2,1006.1 L1112.2,1006.4 L1115.2,1006.6 L1118.2,1006.9 L1121.2,1007.2 L1124.2,1007.4 L1127.2,1007.7 L1130.2,1008.0 L1133.2,1008.3 L1136.2,1008.6 L1139.2,1008.9 L1142.2,1009.2 L1145.2,1009.5 L1148.2,1009.8 L1151.2,1010.1 L1154.2,1010.4 L1157.2,1010.8 L1160.2,1011.1 L1163.2,1011.4 L1166.2,1011.8 L1169.2,1012.1 L1172.2,1012.5 L1175.2,1012.8 L1178.2,1013.2 L1181.2,1013.6 L1184.1,1014.0 L1187.1,1014.4 L1190.1,1014.8 L1193.1,1015.2 L1196.1,1015.7 L1199.0,1016.1 L1202.0,1016.6 L1205.0,1017.1 L1208.0,1017.6 L1210.9,1018.1 L1213.9,1018.7 L1216.9,1019.2 L1219.9,1019.8 L1222.8,1020.4 L1225.8,1021.0 L1228.7,1021.6 L1231.7,1022.3 L1234.6,1023.0 L1237.5,1023.7 L1240.4,1024.5 L1243.3,1025.2 L1246.2,1026.1 L1249.0,1027.0 L1251.9,1027.9 L1254.7,1028.9 L1257.6,1030.0 L1260.4,1031.1 L1263.2,1032.2 L1266.0,1033.3 L1268.8,1034.5 L1271.6,1035.7 L1274.4,1036.9 L1277.1,1038.1 L1279.9,1039.3 L1282.6,1040.5 L1285.4,1041.7 L1288.1,1043.0 L1290.8,1044.3 L1293.5,1045.6 L1296.2,1047.0 L1298.9,1048.4 L1301.6,1049.8 L1304.3,1051.2 L1306.9,1052.7 L1309.5,1054.2 L1312.1,1055.7 L1314.7,1057.2 L1317.3,1058.8 L1319.8,1060.4 L1322.3,1062.0 L1324.8,1063.7 L1327.3,1065.4 L1329.8,1067.1 L1332.3,1068.8 L1334.8,1070.6 L1337.3,1072.3 L1339.7,1074.0 L1342.2,1075.7 L1344.6,1077.5 L1347.1,1079.2 L1349.5,1081.0 L1352.0,1082.8 L1354.4,1084.6 L1356.8,1086.4 L1359.2,1088.2 L1361.6,1090.0 L1364.0,1091.9 L1366.4,1093.7 L1368.7,1095.6 L1371.0,1097.5 L1373.4,1099.5 L1375.6,1101.4 L1377.9,1103.4 L1380.2,1105.3 L1382.5,1107.3 L1384.8,1109.3 L1387.1,1111.2 L1389.4,1113.1 L1391.8,1115.0 L1394.1,1116.9 L1396.5,1118.7 L1398.9,1120.5 L1401.3,1122.3 L1403.8,1124.1 L1406.2,1125.8 L1408.7,1127.6 L1411.1,1129.3 L1413.6,1131.1 L1416.1,1132.8 L1418.6,1134.5 L1421.0,1136.2 L1423.5,1138.0 L1426.0,1139.7 L1428.5,1141.4 L1430.9,1143.1 L1433.4,1144.9 L1435.9,1146.6 L1438.4,1148.3 L1440.9,1150.0 L1443.4,1151.6 L1445.9,1153.3 L1448.5,1154.8 L1451.1,1156.4 L1453.7,1157.9 L1456.3,1159.4 L1458.9,1160.9 L1461.5,1162.3 L1464.2,1163.8 L1466.9,1165.2 L1469.6,1166.5 L1472.3,1167.8 L1475.0,1169.1 L1477.8,1170.4 L1480.5,1171.6 L1483.3,1172.7 L1486.1,1173.8 L1488.9,1175.0 L1491.7,1176.0 L1494.6,1177.1 L1497.5,1178.0 L1500.3,1178.9 L1503.2,1179.7 L1506.2,1180.3 L1509.1,1180.9 L1512.1,1181.4 L1515.0,1181.9 L1518.0,1182.3 L1521.0,1182.7 L1524.0,1183.1 L1527.0,1183.5 L1530.0,1183.8 L1533.0,1184.2 L1536.0,1184.5 L1539.0,1184.9 L1542.0,1185.2 L1545.0,1185.5 L1548.0,1185.7 L1551.0,1186.0" fill="none" stroke="#008000" stroke-width="8.6" stroke-linecap="round" stroke-linejoin="round"/>
<line x1="1414" y1="1129" x2="1430" y2="1140" stroke="#008000" stroke-width="12.5" stroke-linecap="round"/>
<line x1="1447" y1="1151" x2="1461" y2="1160" stroke="#008000" stroke-width="12.5" stroke-linecap="round"/>
<line x1="912.5" y1="853.7" x2="1771.5" y2="1298.5" stroke="#0000ff" stroke-width="5.8" stroke-dasharray="17.30 20.54" stroke-dashoffset="-2.61" stroke-linecap="round"/>
<line x1="802.0" y1="1271.2" x2="2170.5" y2="660.0" stroke="#ff0000" stroke-width="5.8" stroke-dasharray="16.68 20.11" stroke-dashoffset="-2.61" stroke-linecap="round"/>
<line x1="953.5" y1="845.2" x2="1733.5" y2="1336.0" stroke="#ff0000" stroke-width="5.8" stroke-dasharray="18.41 21.29" stroke-dashoffset="-2.61" stroke-linecap="round"/>
<line x1="936.2" y1="837.5" x2="1579.0" y2="1293.6" stroke="#000000" stroke-width="3.6" stroke-dasharray="11.47 13.66" stroke-dashoffset="-1.62" stroke-linecap="round"/>
<line x1="726.5" y1="1131.0" x2="2183.0" y2="726.0" stroke="#008000" stroke-width="5.4" stroke-dasharray="6.87 9.32" stroke-dashoffset="-2.43" stroke-linecap="round"/>
<line x1="974.4" y1="835.9" x2="1768.3" y2="1359.0" stroke="#008000" stroke-width="5.8" stroke-dasharray="18.73 21.51" stroke-dashoffset="-2.61" stroke-linecap="round"/>
</g>
<text transform="translate(370.5 74.6) scale(0.972 1)" font-size="77" text-anchor="end">0.4</text>
<text transform="translate(370.5 241.7) scale(0.972 1)" font-size="77" text-anchor="end">0.2</text>
<text transform="translate(370.5 408.8) scale(0.972 1)" font-size="77" text-anchor="end">0.0</text>
<text transform="translate(370.5 575.9) scale(0.972 1)" font-size="77" text-anchor="end">-0.2</text>
<text transform="translate(370.5 743.0) scale(0.972 1)" font-size="77" text-anchor="end">-0.4</text>
<text transform="translate(370.5 910.2) scale(0.972 1)" font-size="77" text-anchor="end">-0.6</text>
<text transform="translate(370.5 1077.3) scale(0.972 1)" font-size="77" text-anchor="end">-0.8</text>
<text transform="translate(370.5 1244.4) scale(0.972 1)" font-size="77" text-anchor="end">-1.0</text>
<rect x="268.7" y="1235.7" width="15.0" height="9.9" fill="#fff"/>
<rect x="294.5" y="1235.7" width="13.6" height="9.9" fill="#fff"/>
<text transform="translate(370.5 1411.5) scale(0.972 1)" font-size="77" text-anchor="end">-1.2</text>
<rect x="268.7" y="1402.8" width="15.0" height="9.9" fill="#fff"/>
<rect x="294.5" y="1402.8" width="13.6" height="9.9" fill="#fff"/>
<text transform="translate(337.4 1492.5) scale(0.972 1)" font-size="77">10<tspan font-size="47.5" font-weight="normal" stroke="#000" stroke-width="1.1" dy="-42">-8</tspan></text>
<rect x="339.6" y="1483.8" width="15.0" height="9.9" fill="#fff"/>
<rect x="365.4" y="1483.8" width="13.6" height="9.9" fill="#fff"/>
<text transform="translate(642.7 1492.5) scale(0.972 1)" font-size="77">10<tspan font-size="47.5" font-weight="normal" stroke="#000" stroke-width="1.1" dy="-42">-7</tspan></text>
<rect x="644.9" y="1483.8" width="15.0" height="9.9" fill="#fff"/>
<rect x="670.7" y="1483.8" width="13.6" height="9.9" fill="#fff"/>
<text transform="translate(948.0 1492.5) scale(0.972 1)" font-size="77">10<tspan font-size="47.5" font-weight="normal" stroke="#000" stroke-width="1.1" dy="-42">-6</tspan></text>
<rect x="950.2" y="1483.8" width="15.0" height="9.9" fill="#fff"/>
<rect x="976.1" y="1483.8" width="13.6" height="9.9" fill="#fff"/>
<text transform="translate(1253.4 1492.5) scale(0.972 1)" font-size="77">10<tspan font-size="47.5" font-weight="normal" stroke="#000" stroke-width="1.1" dy="-42">-5</tspan></text>
<rect x="1255.6" y="1483.8" width="15.0" height="9.9" fill="#fff"/>
<rect x="1281.4" y="1483.8" width="13.6" height="9.9" fill="#fff"/>
<text transform="translate(1558.7 1492.5) scale(0.972 1)" font-size="77">10<tspan font-size="47.5" font-weight="normal" stroke="#000" stroke-width="1.1" dy="-42">-4</tspan></text>
<rect x="1560.9" y="1483.8" width="15.0" height="9.9" fill="#fff"/>
<rect x="1586.7" y="1483.8" width="13.6" height="9.9" fill="#fff"/>
<text transform="translate(1864.0 1492.5) scale(0.972 1)" font-size="77">10<tspan font-size="47.5" font-weight="normal" stroke="#000" stroke-width="1.1" dy="-42">-3</tspan></text>
<rect x="1866.2" y="1483.8" width="15.0" height="9.9" fill="#fff"/>
<rect x="1892.1" y="1483.8" width="13.6" height="9.9" fill="#fff"/>
<text transform="translate(2169.4 1492.5) scale(0.972 1)" font-size="77">10<tspan font-size="47.5" font-weight="normal" stroke="#000" stroke-width="1.1" dy="-42">-2</tspan></text>
<rect x="2171.6" y="1483.8" width="15.0" height="9.9" fill="#fff"/>
<rect x="2197.4" y="1483.8" width="13.6" height="9.9" fill="#fff"/>
<text transform="translate(829.5 1649.5) scale(0.985 1)" font-size="88.5">Current density (A/cm<tspan font-size="54" font-weight="normal" stroke="#000" stroke-width="1.1" dy="-47.5">2</tspan><tspan dy="47.5">)</tspan></text>
<text transform="translate(118.5 1072.0) rotate(-90) scale(1.006 1)" font-size="88.5">Potential (V<tspan font-size="52" font-weight="normal" stroke="#000" stroke-width="1.1" dy="36">SCE</tspan><tspan dy="-36" dx="5">)</tspan></text>
<line x1="552.5" y1="143.7" x2="698" y2="143.7" stroke="#000000" stroke-width="8.6" stroke-linecap="round"/>
<line x1="552.5" y1="225.0" x2="698" y2="225.0" stroke="#ff0000" stroke-width="8.6" stroke-linecap="round"/>
<line x1="552.5" y1="304.8" x2="698" y2="304.8" stroke="#0000ff" stroke-width="8.6" stroke-linecap="round"/>
<line x1="552.5" y1="406.7" x2="698" y2="406.7" stroke="#008000" stroke-width="8.6" stroke-linecap="round"/>
<text transform="translate(715.2 166.8) scale(0.9265 1)" font-size="67.5">Bare steel</text>
<text transform="translate(714.0 248.2) scale(1.27 1)" font-size="68.5" style="font-family:'Liberation Serif', serif;font-weight:normal">α</text>
<text transform="translate(753.0 247.9) scale(0.9265 1)" font-size="67.5">-FeOOH coated steel</text>
<text transform="translate(715.2 327.8) scale(0.9265 1)" font-size="67.5">Fe<tspan font-size="41" font-weight="normal" stroke="#000" stroke-width="1.1" dy="24.5">3</tspan><tspan dy="-24.5">O</tspan><tspan font-size="41" font-weight="normal" stroke="#000" stroke-width="1.1" dy="24.5">4</tspan><tspan dy="-24.5" dx="-8"> coated steel</tspan></text>
<text transform="translate(715.2 429.0) scale(0.9265 1)" font-size="67.5">Fe<tspan font-size="41" font-weight="normal" stroke="#000" stroke-width="1.1" dy="24.5">2</tspan><tspan dy="-24.5">O</tspan><tspan font-size="41" font-weight="normal" stroke="#000" stroke-width="1.1" dy="24.5">3</tspan><tspan dy="-24.5" dx="-8"> coated steel</tspan></text>
<text transform="translate(1126.0 1789.6)" font-size="92" style="font-family:'Liberation Serif', serif;font-weight:normal">(</text>
<text transform="translate(1153.0 1789.6)" font-size="92" style="font-family:'Liberation Serif', serif;font-weight:bold">b</text>
<text transform="translate(1202.5 1789.6)" font-size="92" style="font-family:'Liberation Serif', serif;font-weight:normal">)</text>
</svg></body></html>
